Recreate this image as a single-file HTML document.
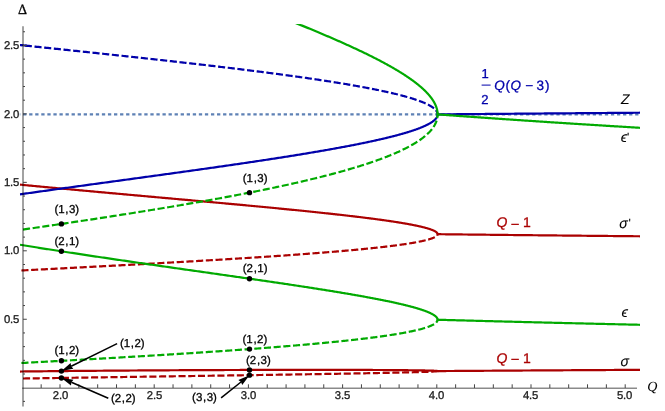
<!DOCTYPE html>
<html><head><meta charset="utf-8"><title>Potts spectrum</title>
<style>
html,body{margin:0;padding:0;background:#fff;}
body{width:665px;height:411px;overflow:hidden;font-family:"Liberation Sans",sans-serif;}
svg{display:block;text-rendering:geometricPrecision;will-change:transform;opacity:0.999;}
</style></head><body>
<svg width="665" height="411" viewBox="0 0 665 411">
<defs><clipPath id="c"><rect x="19.8" y="24" width="620.4" height="387"/></clipPath></defs>
<rect width="665" height="411" fill="#fff"/>
<g clip-path="url(#c)">
<path d="M17.040,114.40 L640.00,114.40" stroke="#5e81b5" stroke-width="2.2" stroke-dasharray="3.3 2.76" fill="none"/>
<path d="M21.10,378.55 L22.67,378.52 L24.25,378.50 L25.82,378.47 L27.40,378.45 L28.97,378.43 L30.55,378.40 L32.13,378.38 L33.71,378.35 L35.28,378.33 L36.86,378.31 L38.44,378.28 L40.02,378.26 L41.60,378.23 L43.18,378.21 L44.76,378.18 L46.34,378.16 L47.92,378.14 L49.50,378.11 L51.09,378.09 L52.67,378.06 L54.25,378.04 L55.83,378.02 L57.41,377.99 L59.00,377.97 L60.58,377.94 L62.16,377.92 L63.74,377.90 L65.32,377.87 L66.91,377.85 L68.49,377.83 L70.07,377.80 L71.65,377.78 L73.23,377.75 L74.82,377.73 L76.40,377.71 L77.98,377.68 L79.56,377.66 L81.14,377.64 L82.72,377.61 L84.30,377.59 L85.88,377.57 L87.46,377.54 L89.03,377.52 L90.61,377.50 L92.19,377.47 L93.77,377.45 L95.34,377.43 L96.92,377.40 L98.49,377.38 L100.07,377.36 L101.64,377.33 L103.21,377.31 L104.78,377.29 L106.36,377.26 L107.93,377.24 L109.50,377.22 L111.06,377.19 L112.63,377.17 L114.20,377.15 L115.77,377.13 L117.33,377.10 L118.89,377.08 L120.46,377.06 L122.02,377.03 L123.58,377.01 L125.14,376.99 L126.70,376.96 L128.26,376.94 L129.81,376.92 L131.37,376.90 L132.92,376.87 L134.48,376.85 L136.03,376.83 L137.58,376.81 L139.13,376.78 L140.67,376.76 L142.22,376.74 L143.76,376.72 L145.31,376.69 L146.85,376.67 L148.39,376.65 L149.93,376.63 L151.46,376.60 L153.00,376.58 L154.53,376.56 L156.07,376.54 L157.60,376.51 L159.13,376.49 L160.65,376.47 L162.18,376.45 L163.70,376.42 L165.22,376.40 L166.74,376.38 L168.26,376.36 L169.78,376.34 L171.29,376.31 L172.80,376.29 L174.31,376.27 L175.82,376.25 L177.33,376.23 L178.83,376.20 L180.33,376.18 L181.83,376.16 L183.33,376.14 L184.83,376.12 L186.32,376.09 L187.81,376.07 L189.30,376.05 L190.79,376.03 L192.27,376.01 L193.76,375.99 L195.24,375.96 L196.71,375.94 L198.19,375.92 L199.66,375.90 L201.13,375.88 L202.60,375.86 L204.06,375.84 L205.53,375.81 L206.99,375.79 L208.44,375.77 L209.90,375.75 L211.35,375.73 L212.80,375.71 L214.25,375.69 L215.69,375.66 L217.14,375.64 L218.57,375.62 L220.01,375.60 L221.44,375.58 L222.87,375.56 L224.30,375.54 L225.73,375.52 L227.15,375.49 L228.57,375.47 L229.98,375.45 L231.40,375.43 L232.81,375.41 L234.21,375.39 L235.62,375.37 L237.02,375.35 L238.42,375.33 L239.81,375.31 L241.20,375.29 L242.59,375.27 L243.97,375.24 L245.36,375.22 L246.74,375.20 L248.11,375.18 L249.48,375.16 L250.85,375.14 L252.22,375.12 L253.58,375.10 L254.94,375.08 L256.29,375.06 L257.64,375.04 L258.99,375.02 L260.34,375.00 L261.68,374.98 L263.01,374.96 L264.35,374.94 L265.68,374.92 L267.01,374.90 L268.33,374.88 L269.65,374.86 L270.96,374.84 L272.28,374.82 L273.59,374.80 L274.89,374.78 L276.19,374.76 L277.49,374.74 L278.78,374.72 L280.07,374.70 L281.36,374.68 L282.64,374.66 L283.92,374.64 L285.19,374.62 L286.46,374.60 L287.73,374.58 L288.99,374.56 L290.24,374.54 L291.50,374.52 L292.75,374.50 L293.99,374.48 L295.24,374.46 L296.47,374.44 L297.71,374.42 L298.94,374.40 L300.16,374.38 L301.38,374.36 L302.60,374.34 L303.81,374.32 L305.02,374.31 L306.22,374.29 L307.42,374.27 L308.61,374.25 L309.81,374.23 L310.99,374.21 L312.17,374.19 L313.35,374.17 L314.52,374.15 L315.69,374.13 L316.85,374.11 L318.01,374.09 L319.17,374.08 L320.32,374.06 L321.46,374.04 L322.61,374.02 L323.74,374.00 L324.87,373.98 L326.00,373.96 L327.12,373.94 L328.24,373.93 L329.35,373.91 L330.46,373.89 L331.57,373.87 L332.66,373.85 L333.76,373.83 L334.85,373.81 L335.93,373.80 L337.01,373.78 L338.08,373.76 L339.15,373.74 L340.22,373.72 L341.28,373.70 L342.33,373.69 L343.38,373.67 L344.43,373.65 L345.47,373.63 L346.50,373.61 L347.53,373.60 L348.56,373.58 L349.58,373.56 L350.59,373.54 L351.60,373.52 L352.61,373.51 L353.60,373.49 L354.60,373.47 L355.59,373.45 L356.57,373.43 L357.55,373.42 L358.52,373.40 L359.49,373.38 L360.45,373.36 L361.41,373.35 L362.36,373.33 L363.31,373.31 L364.25,373.29 L365.19,373.28 L366.12,373.26 L367.04,373.24 L367.96,373.22 L368.88,373.21 L369.78,373.19 L370.69,373.17 L371.59,373.15 L372.48,373.14 L373.37,373.12 L374.25,373.10 L375.12,373.09 L375.99,373.07 L376.86,373.05 L377.72,373.04 L378.57,373.02 L379.42,373.00 L380.26,372.98 L381.10,372.97 L381.93,372.95 L382.76,372.93 L383.58,372.92 L384.39,372.90 L385.20,372.88 L386.00,372.87 L386.80,372.85 L387.59,372.83 L388.37,372.82 L389.15,372.80 L389.93,372.79 L390.70,372.77 L391.46,372.75 L392.21,372.74 L392.96,372.72 L393.71,372.70 L394.45,372.69 L395.18,372.67 L395.91,372.65 L396.63,372.64 L397.34,372.62 L398.05,372.61 L398.76,372.59 L399.45,372.57 L400.14,372.56 L400.83,372.54 L401.51,372.53 L402.18,372.51 L402.85,372.50 L403.51,372.48 L404.17,372.46 L404.81,372.45 L405.46,372.43 L406.09,372.42 L406.73,372.40 L407.35,372.39 L407.97,372.37 L408.58,372.36 L409.19,372.34 L409.79,372.32 L410.38,372.31 L410.97,372.29 L411.55,372.28 L412.13,372.26 L412.70,372.25 L413.26,372.23 L413.82,372.22 L414.37,372.20 L414.91,372.19 L415.45,372.17 L415.98,372.16 L416.51,372.14 L417.02,372.13 L417.54,372.11 L418.04,372.10 L418.54,372.08 L419.04,372.07 L419.53,372.06 L420.01,372.04 L420.48,372.03 L420.95,372.01 L421.41,372.00 L421.87,371.98 L422.32,371.97 L422.76,371.95 L423.20,371.94 L423.63,371.93 L424.05,371.91 L424.47,371.90 L424.88,371.88 L425.29,371.87 L425.69,371.85 L426.08,371.84 L426.46,371.83 L426.84,371.81 L427.21,371.80 L427.58,371.78 L427.94,371.77 L428.29,371.76 L428.64,371.74 L428.98,371.73 L429.31,371.72 L429.64,371.70 L429.96,371.69 L430.27,371.68 L430.58,371.66 L430.88,371.65 L431.18,371.63 L431.46,371.62 L431.75,371.61 L432.02,371.59 L432.29,371.58 L432.55,371.57 L432.81,371.56 L433.05,371.54 L433.30,371.53 L433.53,371.52 L433.76,371.50 L433.98,371.49 L434.20,371.48 L434.41,371.46 L434.61,371.45 L434.81,371.44 L434.99,371.43 L435.18,371.41 L435.35,371.40 L435.52,371.39 L435.69,371.38 L435.84,371.36 L435.99,371.35 L436.13,371.34 L436.27,371.33 L436.40,371.31 L436.52,371.30 L436.64,371.29 L436.75,371.28 L436.85,371.26 L436.95,371.25 L437.04,371.24 L437.12,371.23 L437.20,371.22 L437.27,371.20 L437.33,371.19 L437.39,371.18 L437.44,371.17 L437.48,371.16 L437.52,371.15 L437.55,371.13 L437.57,371.12 L437.59,371.11 L437.60,371.10 L437.60,371.09" stroke="#aa0000" stroke-width="2.2" stroke-dasharray="4.9 4.82" stroke-dashoffset="6.720000000000001" stroke-linecap="square" fill="none"/>
<path d="M20.00,371.53 L21.58,371.51 L23.15,371.49 L24.73,371.47 L26.31,371.45 L27.89,371.44 L29.46,371.42 L31.04,371.40 L32.62,371.38 L34.20,371.37 L35.79,371.35 L37.37,371.33 L38.95,371.32 L40.53,371.30 L42.11,371.28 L43.70,371.27 L45.28,371.25 L46.86,371.23 L48.45,371.22 L50.03,371.20 L51.62,371.18 L53.20,371.17 L54.79,371.15 L56.37,371.14 L57.96,371.12 L59.54,371.11 L61.13,371.09 L62.71,371.07 L64.30,371.06 L65.88,371.04 L67.47,371.03 L69.05,371.01 L70.64,371.00 L72.22,370.99 L73.80,370.97 L75.39,370.96 L76.97,370.94 L78.56,370.93 L80.14,370.91 L81.72,370.90 L83.30,370.89 L84.89,370.87 L86.47,370.86 L88.05,370.85 L89.63,370.83 L91.21,370.82 L92.79,370.81 L94.37,370.79 L95.95,370.78 L97.53,370.77 L99.10,370.75 L100.68,370.74 L102.26,370.73 L103.83,370.72 L105.41,370.70 L106.98,370.69 L108.55,370.68 L110.12,370.67 L111.70,370.65 L113.27,370.64 L114.84,370.63 L116.40,370.62 L117.97,370.61 L119.54,370.60 L121.10,370.58 L122.67,370.57 L124.23,370.56 L125.79,370.55 L127.35,370.54 L128.91,370.53 L130.47,370.52 L132.03,370.51 L133.59,370.50 L135.14,370.49 L136.69,370.48 L138.25,370.47 L139.80,370.46 L141.35,370.45 L142.90,370.44 L144.44,370.43 L145.99,370.42 L147.53,370.41 L149.07,370.40 L150.61,370.39 L152.15,370.38 L153.69,370.37 L155.23,370.36 L156.76,370.35 L158.29,370.34 L159.82,370.33 L161.35,370.32 L162.88,370.31 L164.40,370.30 L165.93,370.30 L167.45,370.29 L168.97,370.28 L170.49,370.27 L172.00,370.26 L173.52,370.25 L175.03,370.25 L176.54,370.24 L178.05,370.23 L179.55,370.22 L181.06,370.21 L182.56,370.21 L184.06,370.20 L185.55,370.19 L187.05,370.18 L188.54,370.18 L190.03,370.17 L191.52,370.16 L193.01,370.16 L194.49,370.15 L195.97,370.14 L197.45,370.14 L198.93,370.13 L200.40,370.12 L201.87,370.12 L203.34,370.11 L204.81,370.10 L206.27,370.10 L207.74,370.09 L209.19,370.08 L210.65,370.08 L212.10,370.07 L213.55,370.07 L215.00,370.06 L216.45,370.06 L217.89,370.05 L219.33,370.04 L220.77,370.04 L222.20,370.03 L223.63,370.03 L225.06,370.02 L226.49,370.02 L227.91,370.01 L229.33,370.01 L230.75,370.00 L232.16,370.00 L233.57,369.99 L234.98,369.99 L236.38,369.98 L237.79,369.98 L239.18,369.98 L240.58,369.97 L241.97,369.97 L243.36,369.96 L244.75,369.96 L246.13,369.96 L247.51,369.95 L248.88,369.95 L250.26,369.94 L251.63,369.94 L252.99,369.94 L254.35,369.93 L255.71,369.93 L257.07,369.93 L258.42,369.92 L259.77,369.92 L261.11,369.92 L262.46,369.92 L263.79,369.91 L265.13,369.91 L266.46,369.91 L267.78,369.90 L269.11,369.90 L270.43,369.90 L271.74,369.90 L273.06,369.89 L274.36,369.89 L275.67,369.89 L276.97,369.89 L278.27,369.89 L279.56,369.88 L280.85,369.88 L282.14,369.88 L283.42,369.88 L284.69,369.88 L285.97,369.88 L287.24,369.87 L288.50,369.87 L289.76,369.87 L291.02,369.87 L292.28,369.87 L293.53,369.87 L294.77,369.87 L296.01,369.87 L297.25,369.86 L298.48,369.86 L299.71,369.86 L300.93,369.86 L302.15,369.86 L303.37,369.86 L304.58,369.86 L305.79,369.86 L306.99,369.86 L308.19,369.86 L309.38,369.86 L310.57,369.86 L311.76,369.86 L312.94,369.86 L314.12,369.86 L315.29,369.86 L316.46,369.86 L317.62,369.86 L318.78,369.86 L319.93,369.86 L321.08,369.86 L322.22,369.86 L323.36,369.86 L324.50,369.86 L325.63,369.86 L326.76,369.86 L327.88,369.87 L328.99,369.87 L330.10,369.87 L331.21,369.87 L332.31,369.87 L333.41,369.87 L334.50,369.87 L335.59,369.87 L336.67,369.88 L337.75,369.88 L338.83,369.88 L339.89,369.88 L340.96,369.88 L342.01,369.88 L343.07,369.89 L344.12,369.89 L345.16,369.89 L346.20,369.89 L347.23,369.89 L348.26,369.90 L349.28,369.90 L350.30,369.90 L351.31,369.90 L352.32,369.91 L353.32,369.91 L354.32,369.91 L355.31,369.91 L356.30,369.92 L357.28,369.92 L358.26,369.92 L359.23,369.92 L360.19,369.93 L361.15,369.93 L362.11,369.93 L363.06,369.94 L364.00,369.94 L364.94,369.94 L365.87,369.95 L366.80,369.95 L367.73,369.95 L368.64,369.96 L369.55,369.96 L370.46,369.96 L371.36,369.97 L372.26,369.97 L373.15,369.98 L374.03,369.98 L374.91,369.98 L375.78,369.99 L376.65,369.99 L377.51,370.00 L378.37,370.00 L379.22,370.01 L380.07,370.01 L380.91,370.01 L381.74,370.02 L382.57,370.02 L383.39,370.03 L384.21,370.03 L385.02,370.04 L385.82,370.04 L386.62,370.05 L387.42,370.05 L388.21,370.06 L388.99,370.06 L389.76,370.07 L390.53,370.07 L391.30,370.08 L392.06,370.08 L392.81,370.09 L393.56,370.09 L394.30,370.10 L395.03,370.10 L395.76,370.11 L396.49,370.12 L397.20,370.12 L397.92,370.13 L398.62,370.13 L399.32,370.14 L400.02,370.14 L400.70,370.15 L401.38,370.16 L402.06,370.16 L402.73,370.17 L403.39,370.17 L404.05,370.18 L404.70,370.19 L405.35,370.19 L405.99,370.20 L406.62,370.21 L407.25,370.21 L407.87,370.22 L408.48,370.23 L409.09,370.23 L409.69,370.24 L410.29,370.25 L410.88,370.25 L411.46,370.26 L412.04,370.27 L412.61,370.27 L413.17,370.28 L413.73,370.29 L414.29,370.30 L414.83,370.30 L415.37,370.31 L415.90,370.32 L416.43,370.33 L416.95,370.33 L417.47,370.34 L417.98,370.35 L418.48,370.36 L418.97,370.36 L419.46,370.37 L419.95,370.38 L420.42,370.39 L420.89,370.39 L421.36,370.40 L421.81,370.41 L422.27,370.42 L422.71,370.43 L423.15,370.44 L423.58,370.44 L424.01,370.45 L424.43,370.46 L424.84,370.47 L425.24,370.48 L425.64,370.49 L426.04,370.49 L426.42,370.50 L426.80,370.51 L427.18,370.52 L427.54,370.53 L427.91,370.54 L428.26,370.55 L428.61,370.56 L428.95,370.56 L429.28,370.57 L429.61,370.58 L429.93,370.59 L430.25,370.60 L430.56,370.61 L430.86,370.62 L431.15,370.63 L431.44,370.64 L431.73,370.65 L432.00,370.66 L432.27,370.67 L432.53,370.68 L432.79,370.69 L433.04,370.70 L433.28,370.71 L433.52,370.71 L433.75,370.72 L433.97,370.73 L434.19,370.74 L434.40,370.75 L434.60,370.76 L434.80,370.77 L434.99,370.78 L435.17,370.79 L435.35,370.81 L435.52,370.82 L435.68,370.83 L435.84,370.84 L435.99,370.85 L436.13,370.86 L436.27,370.87 L436.40,370.88 L436.52,370.89 L436.64,370.90 L436.75,370.91 L436.85,370.92 L436.95,370.93 L437.04,370.94 L437.12,370.95 L437.20,370.96 L437.27,370.98 L437.33,370.99 L437.39,371.00 L437.44,371.01 L437.48,371.02 L437.52,371.03 L437.55,371.04 L437.57,371.05 L437.59,371.06 L437.60,371.08 L437.60,371.09" stroke="#aa0000" stroke-width="2.2" fill="none" stroke-linejoin="round"/>
<path d="M437.60,371.09 L438.62,371.08 L439.63,371.07 L440.65,371.07 L441.67,371.06 L442.69,371.05 L443.70,371.05 L444.72,371.04 L445.74,371.03 L446.75,371.02 L447.77,371.02 L448.79,371.01 L449.81,371.00 L450.82,371.00 L451.84,370.99 L452.86,370.98 L453.87,370.98 L454.89,370.97 L455.91,370.96 L456.92,370.96 L457.94,370.95 L458.96,370.94 L459.98,370.93 L460.99,370.93 L462.01,370.92 L463.03,370.91 L464.04,370.91 L465.06,370.90 L466.08,370.89 L467.10,370.89 L468.11,370.88 L469.13,370.87 L470.15,370.87 L471.16,370.86 L472.18,370.85 L473.20,370.85 L474.22,370.84 L475.23,370.83 L476.25,370.83 L477.27,370.82 L478.28,370.81 L479.30,370.81 L480.32,370.80 L481.33,370.79 L482.35,370.79 L483.37,370.78 L484.39,370.77 L485.40,370.77 L486.42,370.76 L487.44,370.75 L488.45,370.75 L489.47,370.74 L490.49,370.73 L491.51,370.73 L492.52,370.72 L493.54,370.71 L494.56,370.71 L495.57,370.70 L496.59,370.69 L497.61,370.69 L498.63,370.68 L499.64,370.67 L500.66,370.67 L501.68,370.66 L502.69,370.65 L503.71,370.65 L504.73,370.64 L505.74,370.63 L506.76,370.63 L507.78,370.62 L508.80,370.61 L509.81,370.61 L510.83,370.60 L511.85,370.60 L512.86,370.59 L513.88,370.58 L514.90,370.58 L515.92,370.57 L516.93,370.56 L517.95,370.56 L518.97,370.55 L519.98,370.54 L521.00,370.54 L522.02,370.53 L523.04,370.52 L524.05,370.52 L525.07,370.51 L526.09,370.51 L527.10,370.50 L528.12,370.49 L529.14,370.49 L530.15,370.48 L531.17,370.47 L532.19,370.47 L533.21,370.46 L534.22,370.45 L535.24,370.45 L536.26,370.44 L537.27,370.44 L538.29,370.43 L539.31,370.42 L540.33,370.42 L541.34,370.41 L542.36,370.40 L543.38,370.40 L544.39,370.39 L545.41,370.39 L546.43,370.38 L547.45,370.37 L548.46,370.37 L549.48,370.36 L550.50,370.35 L551.51,370.35 L552.53,370.34 L553.55,370.34 L554.56,370.33 L555.58,370.32 L556.60,370.32 L557.62,370.31 L558.63,370.30 L559.65,370.30 L560.67,370.29 L561.68,370.29 L562.70,370.28 L563.72,370.27 L564.74,370.27 L565.75,370.26 L566.77,370.26 L567.79,370.25 L568.80,370.24 L569.82,370.24 L570.84,370.23 L571.86,370.22 L572.87,370.22 L573.89,370.21 L574.91,370.21 L575.92,370.20 L576.94,370.19 L577.96,370.19 L578.97,370.18 L579.99,370.18 L581.01,370.17 L582.03,370.16 L583.04,370.16 L584.06,370.15 L585.08,370.15 L586.09,370.14 L587.11,370.13 L588.13,370.13 L589.15,370.12 L590.16,370.12 L591.18,370.11 L592.20,370.10 L593.21,370.10 L594.23,370.09 L595.25,370.09 L596.27,370.08 L597.28,370.07 L598.30,370.07 L599.32,370.06 L600.33,370.06 L601.35,370.05 L602.37,370.04 L603.38,370.04 L604.40,370.03 L605.42,370.03 L606.44,370.02 L607.45,370.02 L608.47,370.01 L609.49,370.00 L610.50,370.00 L611.52,369.99 L612.54,369.99 L613.56,369.98 L614.57,369.97 L615.59,369.97 L616.61,369.96 L617.62,369.96 L618.64,369.95 L619.66,369.95 L620.68,369.94 L621.69,369.93 L622.71,369.93 L623.73,369.92 L624.74,369.92 L625.76,369.91 L626.78,369.90 L627.79,369.90 L628.81,369.89 L629.83,369.89 L630.85,369.88 L631.86,369.88 L632.88,369.87 L633.90,369.86 L634.91,369.86 L635.93,369.85 L636.95,369.85 L637.97,369.84 L638.98,369.84 L640.00,369.83" stroke="#aa0000" stroke-width="2.2" fill="none" stroke-linejoin="round"/>
<path d="M21.10,270.50 L22.67,270.42 L24.25,270.34 L25.82,270.26 L27.40,270.18 L28.97,270.10 L30.55,270.01 L32.13,269.93 L33.71,269.85 L35.28,269.77 L36.86,269.69 L38.44,269.61 L40.02,269.52 L41.60,269.44 L43.18,269.36 L44.76,269.28 L46.34,269.20 L47.92,269.11 L49.50,269.03 L51.09,268.95 L52.67,268.87 L54.25,268.78 L55.83,268.70 L57.41,268.62 L59.00,268.54 L60.58,268.46 L62.16,268.37 L63.74,268.29 L65.32,268.21 L66.91,268.13 L68.49,268.04 L70.07,267.96 L71.65,267.88 L73.23,267.79 L74.82,267.71 L76.40,267.63 L77.98,267.55 L79.56,267.46 L81.14,267.38 L82.72,267.30 L84.30,267.21 L85.88,267.13 L87.46,267.05 L89.03,266.96 L90.61,266.88 L92.19,266.80 L93.77,266.72 L95.34,266.63 L96.92,266.55 L98.49,266.46 L100.07,266.38 L101.64,266.30 L103.21,266.21 L104.78,266.13 L106.36,266.05 L107.93,265.96 L109.50,265.88 L111.06,265.80 L112.63,265.71 L114.20,265.63 L115.77,265.54 L117.33,265.46 L118.89,265.38 L120.46,265.29 L122.02,265.21 L123.58,265.13 L125.14,265.04 L126.70,264.96 L128.26,264.87 L129.81,264.79 L131.37,264.70 L132.92,264.62 L134.48,264.54 L136.03,264.45 L137.58,264.37 L139.13,264.28 L140.67,264.20 L142.22,264.11 L143.76,264.03 L145.31,263.94 L146.85,263.86 L148.39,263.77 L149.93,263.69 L151.46,263.60 L153.00,263.52 L154.53,263.44 L156.07,263.35 L157.60,263.27 L159.13,263.18 L160.65,263.10 L162.18,263.01 L163.70,262.92 L165.22,262.84 L166.74,262.75 L168.26,262.67 L169.78,262.58 L171.29,262.50 L172.80,262.41 L174.31,262.33 L175.82,262.24 L177.33,262.16 L178.83,262.07 L180.33,261.99 L181.83,261.90 L183.33,261.81 L184.83,261.73 L186.32,261.64 L187.81,261.56 L189.30,261.47 L190.79,261.38 L192.27,261.30 L193.76,261.21 L195.24,261.13 L196.71,261.04 L198.19,260.95 L199.66,260.87 L201.13,260.78 L202.60,260.69 L204.06,260.61 L205.53,260.52 L206.99,260.44 L208.44,260.35 L209.90,260.26 L211.35,260.18 L212.80,260.09 L214.25,260.00 L215.69,259.92 L217.14,259.83 L218.57,259.74 L220.01,259.66 L221.44,259.57 L222.87,259.48 L224.30,259.39 L225.73,259.31 L227.15,259.22 L228.57,259.13 L229.98,259.05 L231.40,258.96 L232.81,258.87 L234.21,258.78 L235.62,258.70 L237.02,258.61 L238.42,258.52 L239.81,258.43 L241.20,258.35 L242.59,258.26 L243.97,258.17 L245.36,258.08 L246.74,258.00 L248.11,257.91 L249.48,257.82 L250.85,257.73 L252.22,257.64 L253.58,257.56 L254.94,257.47 L256.29,257.38 L257.64,257.29 L258.99,257.20 L260.34,257.12 L261.68,257.03 L263.01,256.94 L264.35,256.85 L265.68,256.76 L267.01,256.67 L268.33,256.58 L269.65,256.50 L270.96,256.41 L272.28,256.32 L273.59,256.23 L274.89,256.14 L276.19,256.05 L277.49,255.96 L278.78,255.87 L280.07,255.79 L281.36,255.70 L282.64,255.61 L283.92,255.52 L285.19,255.43 L286.46,255.34 L287.73,255.25 L288.99,255.16 L290.24,255.07 L291.50,254.98 L292.75,254.89 L293.99,254.80 L295.24,254.71 L296.47,254.62 L297.71,254.53 L298.94,254.44 L300.16,254.35 L301.38,254.26 L302.60,254.17 L303.81,254.08 L305.02,253.99 L306.22,253.90 L307.42,253.81 L308.61,253.72 L309.81,253.63 L310.99,253.54 L312.17,253.45 L313.35,253.36 L314.52,253.27 L315.69,253.18 L316.85,253.09 L318.01,253.00 L319.17,252.91 L320.32,252.82 L321.46,252.73 L322.61,252.64 L323.74,252.55 L324.87,252.46 L326.00,252.37 L327.12,252.27 L328.24,252.18 L329.35,252.09 L330.46,252.00 L331.57,251.91 L332.66,251.82 L333.76,251.73 L334.85,251.64 L335.93,251.54 L337.01,251.45 L338.08,251.36 L339.15,251.27 L340.22,251.18 L341.28,251.09 L342.33,250.99 L343.38,250.90 L344.43,250.81 L345.47,250.72 L346.50,250.63 L347.53,250.53 L348.56,250.44 L349.58,250.35 L350.59,250.26 L351.60,250.17 L352.61,250.07 L353.60,249.98 L354.60,249.89 L355.59,249.80 L356.57,249.70 L357.55,249.61 L358.52,249.52 L359.49,249.43 L360.45,249.33 L361.41,249.24 L362.36,249.15 L363.31,249.05 L364.25,248.96 L365.19,248.87 L366.12,248.77 L367.04,248.68 L367.96,248.59 L368.88,248.49 L369.78,248.40 L370.69,248.31 L371.59,248.21 L372.48,248.12 L373.37,248.03 L374.25,247.93 L375.12,247.84 L375.99,247.75 L376.86,247.65 L377.72,247.56 L378.57,247.46 L379.42,247.37 L380.26,247.28 L381.10,247.18 L381.93,247.09 L382.76,246.99 L383.58,246.90 L384.39,246.80 L385.20,246.71 L386.00,246.62 L386.80,246.52 L387.59,246.43 L388.37,246.33 L389.15,246.24 L389.93,246.14 L390.70,246.05 L391.46,245.95 L392.21,245.86 L392.96,245.76 L393.71,245.67 L394.45,245.57 L395.18,245.48 L395.91,245.38 L396.63,245.29 L397.34,245.19 L398.05,245.10 L398.76,245.00 L399.45,244.90 L400.14,244.81 L400.83,244.71 L401.51,244.62 L402.18,244.52 L402.85,244.43 L403.51,244.33 L404.17,244.23 L404.81,244.14 L405.46,244.04 L406.09,243.95 L406.73,243.85 L407.35,243.75 L407.97,243.66 L408.58,243.56 L409.19,243.46 L409.79,243.37 L410.38,243.27 L410.97,243.17 L411.55,243.08 L412.13,242.98 L412.70,242.88 L413.26,242.79 L413.82,242.69 L414.37,242.59 L414.91,242.49 L415.45,242.40 L415.98,242.30 L416.51,242.20 L417.02,242.10 L417.54,242.01 L418.04,241.91 L418.54,241.81 L419.04,241.71 L419.53,241.62 L420.01,241.52 L420.48,241.42 L420.95,241.32 L421.41,241.22 L421.87,241.13 L422.32,241.03 L422.76,240.93 L423.20,240.83 L423.63,240.73 L424.05,240.63 L424.47,240.54 L424.88,240.44 L425.29,240.34 L425.69,240.24 L426.08,240.14 L426.46,240.04 L426.84,239.94 L427.21,239.84 L427.58,239.75 L427.94,239.65 L428.29,239.55 L428.64,239.45 L428.98,239.35 L429.31,239.25 L429.64,239.15 L429.96,239.05 L430.27,238.95 L430.58,238.85 L430.88,238.75 L431.18,238.65 L431.46,238.55 L431.75,238.45 L432.02,238.35 L432.29,238.25 L432.55,238.15 L432.81,238.05 L433.05,237.95 L433.30,237.85 L433.53,237.75 L433.76,237.65 L433.98,237.55 L434.20,237.45 L434.41,237.35 L434.61,237.25 L434.81,237.15 L434.99,237.04 L435.18,236.94 L435.35,236.84 L435.52,236.74 L435.69,236.64 L435.84,236.54 L435.99,236.44 L436.13,236.34 L436.27,236.23 L436.40,236.13 L436.52,236.03 L436.64,235.93 L436.75,235.83 L436.85,235.73 L436.95,235.62 L437.04,235.52 L437.12,235.42 L437.20,235.32 L437.27,235.21 L437.33,235.11 L437.39,235.01 L437.44,234.91 L437.48,234.80 L437.52,234.70 L437.55,234.60 L437.57,234.50 L437.59,234.39 L437.60,234.29 L437.60,234.19" stroke="#aa0000" stroke-width="2.2" stroke-dasharray="4.9 4.82" stroke-dashoffset="8.32" stroke-linecap="square" fill="none"/>
<path d="M20.00,184.62 L21.58,184.77 L23.15,184.92 L24.73,185.08 L26.31,185.23 L27.89,185.38 L29.46,185.53 L31.04,185.68 L32.62,185.84 L34.20,185.99 L35.79,186.14 L37.37,186.29 L38.95,186.44 L40.53,186.59 L42.11,186.74 L43.70,186.89 L45.28,187.04 L46.86,187.19 L48.45,187.34 L50.03,187.49 L51.62,187.64 L53.20,187.79 L54.79,187.94 L56.37,188.08 L57.96,188.23 L59.54,188.38 L61.13,188.53 L62.71,188.68 L64.30,188.82 L65.88,188.97 L67.47,189.12 L69.05,189.27 L70.64,189.41 L72.22,189.56 L73.80,189.71 L75.39,189.85 L76.97,190.00 L78.56,190.14 L80.14,190.29 L81.72,190.44 L83.30,190.58 L84.89,190.73 L86.47,190.87 L88.05,191.02 L89.63,191.16 L91.21,191.31 L92.79,191.45 L94.37,191.60 L95.95,191.74 L97.53,191.88 L99.10,192.03 L100.68,192.17 L102.26,192.31 L103.83,192.46 L105.41,192.60 L106.98,192.74 L108.55,192.89 L110.12,193.03 L111.70,193.17 L113.27,193.31 L114.84,193.46 L116.40,193.60 L117.97,193.74 L119.54,193.88 L121.10,194.02 L122.67,194.16 L124.23,194.30 L125.79,194.45 L127.35,194.59 L128.91,194.73 L130.47,194.87 L132.03,195.01 L133.59,195.15 L135.14,195.29 L136.69,195.43 L138.25,195.57 L139.80,195.71 L141.35,195.85 L142.90,195.99 L144.44,196.12 L145.99,196.26 L147.53,196.40 L149.07,196.54 L150.61,196.68 L152.15,196.82 L153.69,196.95 L155.23,197.09 L156.76,197.23 L158.29,197.37 L159.82,197.51 L161.35,197.64 L162.88,197.78 L164.40,197.92 L165.93,198.05 L167.45,198.19 L168.97,198.33 L170.49,198.46 L172.00,198.60 L173.52,198.74 L175.03,198.87 L176.54,199.01 L178.05,199.14 L179.55,199.28 L181.06,199.41 L182.56,199.55 L184.06,199.68 L185.55,199.82 L187.05,199.95 L188.54,200.09 L190.03,200.22 L191.52,200.36 L193.01,200.49 L194.49,200.62 L195.97,200.76 L197.45,200.89 L198.93,201.02 L200.40,201.16 L201.87,201.29 L203.34,201.42 L204.81,201.56 L206.27,201.69 L207.74,201.82 L209.19,201.96 L210.65,202.09 L212.10,202.22 L213.55,202.35 L215.00,202.48 L216.45,202.62 L217.89,202.75 L219.33,202.88 L220.77,203.01 L222.20,203.14 L223.63,203.27 L225.06,203.40 L226.49,203.53 L227.91,203.67 L229.33,203.80 L230.75,203.93 L232.16,204.06 L233.57,204.19 L234.98,204.32 L236.38,204.45 L237.79,204.58 L239.18,204.71 L240.58,204.84 L241.97,204.96 L243.36,205.09 L244.75,205.22 L246.13,205.35 L247.51,205.48 L248.88,205.61 L250.26,205.74 L251.63,205.87 L252.99,205.99 L254.35,206.12 L255.71,206.25 L257.07,206.38 L258.42,206.51 L259.77,206.63 L261.11,206.76 L262.46,206.89 L263.79,207.02 L265.13,207.14 L266.46,207.27 L267.78,207.40 L269.11,207.52 L270.43,207.65 L271.74,207.78 L273.06,207.90 L274.36,208.03 L275.67,208.15 L276.97,208.28 L278.27,208.41 L279.56,208.53 L280.85,208.66 L282.14,208.78 L283.42,208.91 L284.69,209.03 L285.97,209.16 L287.24,209.28 L288.50,209.41 L289.76,209.53 L291.02,209.66 L292.28,209.78 L293.53,209.91 L294.77,210.03 L296.01,210.15 L297.25,210.28 L298.48,210.40 L299.71,210.53 L300.93,210.65 L302.15,210.77 L303.37,210.90 L304.58,211.02 L305.79,211.14 L306.99,211.26 L308.19,211.39 L309.38,211.51 L310.57,211.63 L311.76,211.76 L312.94,211.88 L314.12,212.00 L315.29,212.12 L316.46,212.24 L317.62,212.37 L318.78,212.49 L319.93,212.61 L321.08,212.73 L322.22,212.85 L323.36,212.97 L324.50,213.10 L325.63,213.22 L326.76,213.34 L327.88,213.46 L328.99,213.58 L330.10,213.70 L331.21,213.82 L332.31,213.94 L333.41,214.06 L334.50,214.18 L335.59,214.30 L336.67,214.42 L337.75,214.54 L338.83,214.66 L339.89,214.78 L340.96,214.90 L342.01,215.02 L343.07,215.14 L344.12,215.26 L345.16,215.38 L346.20,215.50 L347.23,215.61 L348.26,215.73 L349.28,215.85 L350.30,215.97 L351.31,216.09 L352.32,216.21 L353.32,216.32 L354.32,216.44 L355.31,216.56 L356.30,216.68 L357.28,216.80 L358.26,216.91 L359.23,217.03 L360.19,217.15 L361.15,217.27 L362.11,217.38 L363.06,217.50 L364.00,217.62 L364.94,217.73 L365.87,217.85 L366.80,217.97 L367.73,218.08 L368.64,218.20 L369.55,218.32 L370.46,218.43 L371.36,218.55 L372.26,218.67 L373.15,218.78 L374.03,218.90 L374.91,219.01 L375.78,219.13 L376.65,219.24 L377.51,219.36 L378.37,219.47 L379.22,219.59 L380.07,219.70 L380.91,219.82 L381.74,219.93 L382.57,220.05 L383.39,220.16 L384.21,220.28 L385.02,220.39 L385.82,220.51 L386.62,220.62 L387.42,220.74 L388.21,220.85 L388.99,220.96 L389.76,221.08 L390.53,221.19 L391.30,221.31 L392.06,221.42 L392.81,221.53 L393.56,221.65 L394.30,221.76 L395.03,221.87 L395.76,221.99 L396.49,222.10 L397.20,222.21 L397.92,222.32 L398.62,222.44 L399.32,222.55 L400.02,222.66 L400.70,222.78 L401.38,222.89 L402.06,223.00 L402.73,223.11 L403.39,223.22 L404.05,223.34 L404.70,223.45 L405.35,223.56 L405.99,223.67 L406.62,223.78 L407.25,223.89 L407.87,224.01 L408.48,224.12 L409.09,224.23 L409.69,224.34 L410.29,224.45 L410.88,224.56 L411.46,224.67 L412.04,224.78 L412.61,224.89 L413.17,225.00 L413.73,225.11 L414.29,225.22 L414.83,225.34 L415.37,225.45 L415.90,225.56 L416.43,225.67 L416.95,225.78 L417.47,225.89 L417.98,225.99 L418.48,226.10 L418.97,226.21 L419.46,226.32 L419.95,226.43 L420.42,226.54 L420.89,226.65 L421.36,226.76 L421.81,226.87 L422.27,226.98 L422.71,227.09 L423.15,227.20 L423.58,227.30 L424.01,227.41 L424.43,227.52 L424.84,227.63 L425.24,227.74 L425.64,227.85 L426.04,227.95 L426.42,228.06 L426.80,228.17 L427.18,228.28 L427.54,228.39 L427.91,228.49 L428.26,228.60 L428.61,228.71 L428.95,228.82 L429.28,228.92 L429.61,229.03 L429.93,229.14 L430.25,229.25 L430.56,229.35 L430.86,229.46 L431.15,229.57 L431.44,229.67 L431.73,229.78 L432.00,229.89 L432.27,229.99 L432.53,230.10 L432.79,230.21 L433.04,230.31 L433.28,230.42 L433.52,230.52 L433.75,230.63 L433.97,230.74 L434.19,230.84 L434.40,230.95 L434.60,231.05 L434.80,231.16 L434.99,231.27 L435.17,231.37 L435.35,231.48 L435.52,231.58 L435.68,231.69 L435.84,231.79 L435.99,231.90 L436.13,232.00 L436.27,232.11 L436.40,232.21 L436.52,232.32 L436.64,232.42 L436.75,232.53 L436.85,232.63 L436.95,232.73 L437.04,232.84 L437.12,232.94 L437.20,233.05 L437.27,233.15 L437.33,233.25 L437.39,233.36 L437.44,233.46 L437.48,233.57 L437.52,233.67 L437.55,233.77 L437.57,233.88 L437.59,233.98 L437.60,234.08 L437.60,234.19" stroke="#aa0000" stroke-width="2.2" fill="none" stroke-linejoin="round"/>
<path d="M437.60,234.19 L438.62,234.20 L439.63,234.21 L440.65,234.22 L441.67,234.23 L442.69,234.25 L443.70,234.26 L444.72,234.27 L445.74,234.28 L446.75,234.29 L447.77,234.30 L448.79,234.32 L449.81,234.33 L450.82,234.34 L451.84,234.35 L452.86,234.36 L453.87,234.37 L454.89,234.38 L455.91,234.40 L456.92,234.41 L457.94,234.42 L458.96,234.43 L459.98,234.44 L460.99,234.45 L462.01,234.46 L463.03,234.48 L464.04,234.49 L465.06,234.50 L466.08,234.51 L467.10,234.52 L468.11,234.53 L469.13,234.54 L470.15,234.56 L471.16,234.57 L472.18,234.58 L473.20,234.59 L474.22,234.60 L475.23,234.61 L476.25,234.62 L477.27,234.63 L478.28,234.65 L479.30,234.66 L480.32,234.67 L481.33,234.68 L482.35,234.69 L483.37,234.70 L484.39,234.71 L485.40,234.72 L486.42,234.73 L487.44,234.75 L488.45,234.76 L489.47,234.77 L490.49,234.78 L491.51,234.79 L492.52,234.80 L493.54,234.81 L494.56,234.82 L495.57,234.83 L496.59,234.85 L497.61,234.86 L498.63,234.87 L499.64,234.88 L500.66,234.89 L501.68,234.90 L502.69,234.91 L503.71,234.92 L504.73,234.93 L505.74,234.94 L506.76,234.95 L507.78,234.97 L508.80,234.98 L509.81,234.99 L510.83,235.00 L511.85,235.01 L512.86,235.02 L513.88,235.03 L514.90,235.04 L515.92,235.05 L516.93,235.06 L517.95,235.07 L518.97,235.08 L519.98,235.09 L521.00,235.10 L522.02,235.12 L523.04,235.13 L524.05,235.14 L525.07,235.15 L526.09,235.16 L527.10,235.17 L528.12,235.18 L529.14,235.19 L530.15,235.20 L531.17,235.21 L532.19,235.22 L533.21,235.23 L534.22,235.24 L535.24,235.25 L536.26,235.26 L537.27,235.27 L538.29,235.29 L539.31,235.30 L540.33,235.31 L541.34,235.32 L542.36,235.33 L543.38,235.34 L544.39,235.35 L545.41,235.36 L546.43,235.37 L547.45,235.38 L548.46,235.39 L549.48,235.40 L550.50,235.41 L551.51,235.42 L552.53,235.43 L553.55,235.44 L554.56,235.45 L555.58,235.46 L556.60,235.47 L557.62,235.48 L558.63,235.49 L559.65,235.50 L560.67,235.51 L561.68,235.52 L562.70,235.53 L563.72,235.54 L564.74,235.55 L565.75,235.56 L566.77,235.57 L567.79,235.59 L568.80,235.60 L569.82,235.61 L570.84,235.62 L571.86,235.63 L572.87,235.64 L573.89,235.65 L574.91,235.66 L575.92,235.67 L576.94,235.68 L577.96,235.69 L578.97,235.70 L579.99,235.71 L581.01,235.72 L582.03,235.73 L583.04,235.74 L584.06,235.75 L585.08,235.76 L586.09,235.77 L587.11,235.78 L588.13,235.79 L589.15,235.80 L590.16,235.81 L591.18,235.82 L592.20,235.83 L593.21,235.84 L594.23,235.85 L595.25,235.86 L596.27,235.87 L597.28,235.88 L598.30,235.89 L599.32,235.90 L600.33,235.91 L601.35,235.92 L602.37,235.93 L603.38,235.94 L604.40,235.95 L605.42,235.96 L606.44,235.96 L607.45,235.97 L608.47,235.98 L609.49,235.99 L610.50,236.00 L611.52,236.01 L612.54,236.02 L613.56,236.03 L614.57,236.04 L615.59,236.05 L616.61,236.06 L617.62,236.07 L618.64,236.08 L619.66,236.09 L620.68,236.10 L621.69,236.11 L622.71,236.12 L623.73,236.13 L624.74,236.14 L625.76,236.15 L626.78,236.16 L627.79,236.17 L628.81,236.18 L629.83,236.19 L630.85,236.20 L631.86,236.21 L632.88,236.22 L633.90,236.23 L634.91,236.24 L635.93,236.25 L636.95,236.25 L637.97,236.26 L638.98,236.27 L640.00,236.28" stroke="#aa0000" stroke-width="2.2" fill="none" stroke-linejoin="round"/>
<path d="M21.10,45.13 L22.67,45.29 L24.25,45.46 L25.82,45.62 L27.40,45.79 L28.97,45.96 L30.55,46.12 L32.13,46.29 L33.71,46.46 L35.28,46.62 L36.86,46.79 L38.44,46.95 L40.02,47.12 L41.60,47.29 L43.18,47.45 L44.76,47.62 L46.34,47.79 L47.92,47.95 L49.50,48.12 L51.09,48.29 L52.67,48.45 L54.25,48.62 L55.83,48.79 L57.41,48.95 L59.00,49.12 L60.58,49.29 L62.16,49.45 L63.74,49.62 L65.32,49.79 L66.91,49.95 L68.49,50.12 L70.07,50.29 L71.65,50.45 L73.23,50.62 L74.82,50.79 L76.40,50.96 L77.98,51.12 L79.56,51.29 L81.14,51.46 L82.72,51.62 L84.30,51.79 L85.88,51.96 L87.46,52.13 L89.03,52.29 L90.61,52.46 L92.19,52.63 L93.77,52.79 L95.34,52.96 L96.92,53.13 L98.49,53.30 L100.07,53.46 L101.64,53.63 L103.21,53.80 L104.78,53.97 L106.36,54.14 L107.93,54.30 L109.50,54.47 L111.06,54.64 L112.63,54.81 L114.20,54.97 L115.77,55.14 L117.33,55.31 L118.89,55.48 L120.46,55.65 L122.02,55.81 L123.58,55.98 L125.14,56.15 L126.70,56.32 L128.26,56.49 L129.81,56.65 L131.37,56.82 L132.92,56.99 L134.48,57.16 L136.03,57.33 L137.58,57.50 L139.13,57.66 L140.67,57.83 L142.22,58.00 L143.76,58.17 L145.31,58.34 L146.85,58.51 L148.39,58.68 L149.93,58.84 L151.46,59.01 L153.00,59.18 L154.53,59.35 L156.07,59.52 L157.60,59.69 L159.13,59.86 L160.65,60.03 L162.18,60.19 L163.70,60.36 L165.22,60.53 L166.74,60.70 L168.26,60.87 L169.78,61.04 L171.29,61.21 L172.80,61.38 L174.31,61.55 L175.82,61.72 L177.33,61.89 L178.83,62.05 L180.33,62.22 L181.83,62.39 L183.33,62.56 L184.83,62.73 L186.32,62.90 L187.81,63.07 L189.30,63.24 L190.79,63.41 L192.27,63.58 L193.76,63.75 L195.24,63.92 L196.71,64.09 L198.19,64.26 L199.66,64.43 L201.13,64.60 L202.60,64.77 L204.06,64.94 L205.53,65.11 L206.99,65.28 L208.44,65.45 L209.90,65.62 L211.35,65.79 L212.80,65.96 L214.25,66.13 L215.69,66.30 L217.14,66.47 L218.57,66.64 L220.01,66.81 L221.44,66.98 L222.87,67.15 L224.30,67.32 L225.73,67.49 L227.15,67.66 L228.57,67.83 L229.98,68.00 L231.40,68.17 L232.81,68.34 L234.21,68.51 L235.62,68.68 L237.02,68.86 L238.42,69.03 L239.81,69.20 L241.20,69.37 L242.59,69.54 L243.97,69.71 L245.36,69.88 L246.74,70.05 L248.11,70.22 L249.48,70.39 L250.85,70.57 L252.22,70.74 L253.58,70.91 L254.94,71.08 L256.29,71.25 L257.64,71.42 L258.99,71.59 L260.34,71.76 L261.68,71.94 L263.01,72.11 L264.35,72.28 L265.68,72.45 L267.01,72.62 L268.33,72.79 L269.65,72.97 L270.96,73.14 L272.28,73.31 L273.59,73.48 L274.89,73.65 L276.19,73.82 L277.49,74.00 L278.78,74.17 L280.07,74.34 L281.36,74.51 L282.64,74.68 L283.92,74.86 L285.19,75.03 L286.46,75.20 L287.73,75.37 L288.99,75.55 L290.24,75.72 L291.50,75.89 L292.75,76.06 L293.99,76.24 L295.24,76.41 L296.47,76.58 L297.71,76.75 L298.94,76.93 L300.16,77.10 L301.38,77.27 L302.60,77.44 L303.81,77.62 L305.02,77.79 L306.22,77.96 L307.42,78.13 L308.61,78.31 L309.81,78.48 L310.99,78.65 L312.17,78.83 L313.35,79.00 L314.52,79.17 L315.69,79.35 L316.85,79.52 L318.01,79.69 L319.17,79.87 L320.32,80.04 L321.46,80.21 L322.61,80.39 L323.74,80.56 L324.87,80.73 L326.00,80.91 L327.12,81.08 L328.24,81.25 L329.35,81.43 L330.46,81.60 L331.57,81.78 L332.66,81.95 L333.76,82.12 L334.85,82.30 L335.93,82.47 L337.01,82.65 L338.08,82.82 L339.15,82.99 L340.22,83.17 L341.28,83.34 L342.33,83.52 L343.38,83.69 L344.43,83.86 L345.47,84.04 L346.50,84.21 L347.53,84.39 L348.56,84.56 L349.58,84.74 L350.59,84.91 L351.60,85.09 L352.61,85.26 L353.60,85.44 L354.60,85.61 L355.59,85.79 L356.57,85.96 L357.55,86.13 L358.52,86.31 L359.49,86.48 L360.45,86.66 L361.41,86.83 L362.36,87.01 L363.31,87.19 L364.25,87.36 L365.19,87.54 L366.12,87.71 L367.04,87.89 L367.96,88.06 L368.88,88.24 L369.78,88.41 L370.69,88.59 L371.59,88.76 L372.48,88.94 L373.37,89.12 L374.25,89.29 L375.12,89.47 L375.99,89.64 L376.86,89.82 L377.72,89.99 L378.57,90.17 L379.42,90.35 L380.26,90.52 L381.10,90.70 L381.93,90.87 L382.76,91.05 L383.58,91.23 L384.39,91.40 L385.20,91.58 L386.00,91.76 L386.80,91.93 L387.59,92.11 L388.37,92.29 L389.15,92.46 L389.93,92.64 L390.70,92.82 L391.46,92.99 L392.21,93.17 L392.96,93.35 L393.71,93.52 L394.45,93.70 L395.18,93.88 L395.91,94.05 L396.63,94.23 L397.34,94.41 L398.05,94.59 L398.76,94.76 L399.45,94.94 L400.14,95.12 L400.83,95.29 L401.51,95.47 L402.18,95.65 L402.85,95.83 L403.51,96.00 L404.17,96.18 L404.81,96.36 L405.46,96.54 L406.09,96.72 L406.73,96.89 L407.35,97.07 L407.97,97.25 L408.58,97.43 L409.19,97.61 L409.79,97.78 L410.38,97.96 L410.97,98.14 L411.55,98.32 L412.13,98.50 L412.70,98.67 L413.26,98.85 L413.82,99.03 L414.37,99.21 L414.91,99.39 L415.45,99.57 L415.98,99.75 L416.51,99.92 L417.02,100.10 L417.54,100.28 L418.04,100.46 L418.54,100.64 L419.04,100.82 L419.53,101.00 L420.01,101.18 L420.48,101.36 L420.95,101.54 L421.41,101.71 L421.87,101.89 L422.32,102.07 L422.76,102.25 L423.20,102.43 L423.63,102.61 L424.05,102.79 L424.47,102.97 L424.88,103.15 L425.29,103.33 L425.69,103.51 L426.08,103.69 L426.46,103.87 L426.84,104.05 L427.21,104.23 L427.58,104.41 L427.94,104.59 L428.29,104.77 L428.64,104.95 L428.98,105.13 L429.31,105.31 L429.64,105.49 L429.96,105.67 L430.27,105.85 L430.58,106.03 L430.88,106.21 L431.18,106.39 L431.46,106.57 L431.75,106.76 L432.02,106.94 L432.29,107.12 L432.55,107.30 L432.81,107.48 L433.05,107.66 L433.30,107.84 L433.53,108.02 L433.76,108.20 L433.98,108.38 L434.20,108.57 L434.41,108.75 L434.61,108.93 L434.81,109.11 L434.99,109.29 L435.18,109.47 L435.35,109.66 L435.52,109.84 L435.69,110.02 L435.84,110.20 L435.99,110.38 L436.13,110.56 L436.27,110.75 L436.40,110.93 L436.52,111.11 L436.64,111.29 L436.75,111.48 L436.85,111.66 L436.95,111.84 L437.04,112.02 L437.12,112.21 L437.20,112.39 L437.27,112.57 L437.33,112.75 L437.39,112.94 L437.44,113.12 L437.48,113.30 L437.52,113.48 L437.55,113.67 L437.57,113.85 L437.59,114.03 L437.60,114.22 L437.60,114.40" stroke="#0000aa" stroke-width="2.2" stroke-dasharray="4.9 4.82" stroke-dashoffset="4.870000000000001" stroke-linecap="square" fill="none"/>
<path d="M20.00,194.34 L21.58,194.12 L23.15,193.90 L24.73,193.68 L26.31,193.45 L27.89,193.23 L29.46,193.01 L31.04,192.79 L32.62,192.56 L34.20,192.34 L35.79,192.12 L37.37,191.90 L38.95,191.68 L40.53,191.46 L42.11,191.23 L43.70,191.01 L45.28,190.79 L46.86,190.57 L48.45,190.35 L50.03,190.13 L51.62,189.91 L53.20,189.69 L54.79,189.47 L56.37,189.25 L57.96,189.03 L59.54,188.81 L61.13,188.59 L62.71,188.37 L64.30,188.15 L65.88,187.93 L67.47,187.72 L69.05,187.50 L70.64,187.28 L72.22,187.06 L73.80,186.84 L75.39,186.62 L76.97,186.41 L78.56,186.19 L80.14,185.97 L81.72,185.75 L83.30,185.54 L84.89,185.32 L86.47,185.10 L88.05,184.88 L89.63,184.67 L91.21,184.45 L92.79,184.23 L94.37,184.02 L95.95,183.80 L97.53,183.59 L99.10,183.37 L100.68,183.15 L102.26,182.94 L103.83,182.72 L105.41,182.51 L106.98,182.29 L108.55,182.08 L110.12,181.86 L111.70,181.65 L113.27,181.43 L114.84,181.22 L116.40,181.00 L117.97,180.79 L119.54,180.57 L121.10,180.36 L122.67,180.15 L124.23,179.93 L125.79,179.72 L127.35,179.50 L128.91,179.29 L130.47,179.08 L132.03,178.86 L133.59,178.65 L135.14,178.44 L136.69,178.23 L138.25,178.01 L139.80,177.80 L141.35,177.59 L142.90,177.38 L144.44,177.16 L145.99,176.95 L147.53,176.74 L149.07,176.53 L150.61,176.32 L152.15,176.10 L153.69,175.89 L155.23,175.68 L156.76,175.47 L158.29,175.26 L159.82,175.05 L161.35,174.84 L162.88,174.63 L164.40,174.42 L165.93,174.21 L167.45,174.00 L168.97,173.79 L170.49,173.58 L172.00,173.37 L173.52,173.16 L175.03,172.95 L176.54,172.74 L178.05,172.53 L179.55,172.32 L181.06,172.11 L182.56,171.90 L184.06,171.69 L185.55,171.48 L187.05,171.27 L188.54,171.06 L190.03,170.86 L191.52,170.65 L193.01,170.44 L194.49,170.23 L195.97,170.02 L197.45,169.82 L198.93,169.61 L200.40,169.40 L201.87,169.19 L203.34,168.99 L204.81,168.78 L206.27,168.57 L207.74,168.36 L209.19,168.16 L210.65,167.95 L212.10,167.74 L213.55,167.54 L215.00,167.33 L216.45,167.12 L217.89,166.92 L219.33,166.71 L220.77,166.50 L222.20,166.30 L223.63,166.09 L225.06,165.89 L226.49,165.68 L227.91,165.48 L229.33,165.27 L230.75,165.07 L232.16,164.86 L233.57,164.66 L234.98,164.45 L236.38,164.25 L237.79,164.04 L239.18,163.84 L240.58,163.63 L241.97,163.43 L243.36,163.22 L244.75,163.02 L246.13,162.81 L247.51,162.61 L248.88,162.41 L250.26,162.20 L251.63,162.00 L252.99,161.80 L254.35,161.59 L255.71,161.39 L257.07,161.19 L258.42,160.98 L259.77,160.78 L261.11,160.58 L262.46,160.37 L263.79,160.17 L265.13,159.97 L266.46,159.77 L267.78,159.56 L269.11,159.36 L270.43,159.16 L271.74,158.96 L273.06,158.75 L274.36,158.55 L275.67,158.35 L276.97,158.15 L278.27,157.95 L279.56,157.75 L280.85,157.54 L282.14,157.34 L283.42,157.14 L284.69,156.94 L285.97,156.74 L287.24,156.54 L288.50,156.34 L289.76,156.14 L291.02,155.94 L292.28,155.74 L293.53,155.54 L294.77,155.34 L296.01,155.14 L297.25,154.94 L298.48,154.74 L299.71,154.54 L300.93,154.34 L302.15,154.14 L303.37,153.94 L304.58,153.74 L305.79,153.54 L306.99,153.34 L308.19,153.14 L309.38,152.94 L310.57,152.74 L311.76,152.54 L312.94,152.34 L314.12,152.14 L315.29,151.94 L316.46,151.75 L317.62,151.55 L318.78,151.35 L319.93,151.15 L321.08,150.95 L322.22,150.75 L323.36,150.56 L324.50,150.36 L325.63,150.16 L326.76,149.96 L327.88,149.77 L328.99,149.57 L330.10,149.37 L331.21,149.17 L332.31,148.98 L333.41,148.78 L334.50,148.58 L335.59,148.38 L336.67,148.19 L337.75,147.99 L338.83,147.79 L339.89,147.60 L340.96,147.40 L342.01,147.20 L343.07,147.01 L344.12,146.81 L345.16,146.62 L346.20,146.42 L347.23,146.22 L348.26,146.03 L349.28,145.83 L350.30,145.64 L351.31,145.44 L352.32,145.24 L353.32,145.05 L354.32,144.85 L355.31,144.66 L356.30,144.46 L357.28,144.27 L358.26,144.07 L359.23,143.88 L360.19,143.68 L361.15,143.49 L362.11,143.29 L363.06,143.10 L364.00,142.90 L364.94,142.71 L365.87,142.52 L366.80,142.32 L367.73,142.13 L368.64,141.93 L369.55,141.74 L370.46,141.54 L371.36,141.35 L372.26,141.16 L373.15,140.96 L374.03,140.77 L374.91,140.58 L375.78,140.38 L376.65,140.19 L377.51,140.00 L378.37,139.80 L379.22,139.61 L380.07,139.42 L380.91,139.22 L381.74,139.03 L382.57,138.84 L383.39,138.64 L384.21,138.45 L385.02,138.26 L385.82,138.07 L386.62,137.87 L387.42,137.68 L388.21,137.49 L388.99,137.30 L389.76,137.11 L390.53,136.91 L391.30,136.72 L392.06,136.53 L392.81,136.34 L393.56,136.15 L394.30,135.95 L395.03,135.76 L395.76,135.57 L396.49,135.38 L397.20,135.19 L397.92,135.00 L398.62,134.81 L399.32,134.62 L400.02,134.42 L400.70,134.23 L401.38,134.04 L402.06,133.85 L402.73,133.66 L403.39,133.47 L404.05,133.28 L404.70,133.09 L405.35,132.90 L405.99,132.71 L406.62,132.52 L407.25,132.33 L407.87,132.14 L408.48,131.95 L409.09,131.76 L409.69,131.57 L410.29,131.38 L410.88,131.19 L411.46,131.00 L412.04,130.81 L412.61,130.62 L413.17,130.43 L413.73,130.24 L414.29,130.05 L414.83,129.86 L415.37,129.67 L415.90,129.48 L416.43,129.30 L416.95,129.11 L417.47,128.92 L417.98,128.73 L418.48,128.54 L418.97,128.35 L419.46,128.16 L419.95,127.98 L420.42,127.79 L420.89,127.60 L421.36,127.41 L421.81,127.22 L422.27,127.03 L422.71,126.85 L423.15,126.66 L423.58,126.47 L424.01,126.28 L424.43,126.09 L424.84,125.91 L425.24,125.72 L425.64,125.53 L426.04,125.34 L426.42,125.16 L426.80,124.97 L427.18,124.78 L427.54,124.59 L427.91,124.41 L428.26,124.22 L428.61,124.03 L428.95,123.85 L429.28,123.66 L429.61,123.47 L429.93,123.29 L430.25,123.10 L430.56,122.91 L430.86,122.73 L431.15,122.54 L431.44,122.35 L431.73,122.17 L432.00,121.98 L432.27,121.79 L432.53,121.61 L432.79,121.42 L433.04,121.24 L433.28,121.05 L433.52,120.86 L433.75,120.68 L433.97,120.49 L434.19,120.31 L434.40,120.12 L434.60,119.94 L434.80,119.75 L434.99,119.57 L435.17,119.38 L435.35,119.19 L435.52,119.01 L435.68,118.82 L435.84,118.64 L435.99,118.45 L436.13,118.27 L436.27,118.08 L436.40,117.90 L436.52,117.71 L436.64,117.53 L436.75,117.35 L436.85,117.16 L436.95,116.98 L437.04,116.79 L437.12,116.61 L437.20,116.42 L437.27,116.24 L437.33,116.05 L437.39,115.87 L437.44,115.69 L437.48,115.50 L437.52,115.32 L437.55,115.13 L437.57,114.95 L437.59,114.77 L437.60,114.58 L437.60,114.40" stroke="#0000aa" stroke-width="2.2" fill="none" stroke-linejoin="round"/>
<path d="M437.60,114.40 L438.62,114.39 L439.63,114.38 L440.65,114.37 L441.67,114.36 L442.69,114.35 L443.70,114.34 L444.72,114.33 L445.74,114.33 L446.75,114.32 L447.77,114.31 L448.79,114.30 L449.81,114.29 L450.82,114.28 L451.84,114.27 L452.86,114.26 L453.87,114.25 L454.89,114.24 L455.91,114.23 L456.92,114.22 L457.94,114.21 L458.96,114.21 L459.98,114.20 L460.99,114.19 L462.01,114.18 L463.03,114.17 L464.04,114.16 L465.06,114.15 L466.08,114.14 L467.10,114.13 L468.11,114.12 L469.13,114.11 L470.15,114.11 L471.16,114.10 L472.18,114.09 L473.20,114.08 L474.22,114.07 L475.23,114.06 L476.25,114.05 L477.27,114.04 L478.28,114.03 L479.30,114.02 L480.32,114.02 L481.33,114.01 L482.35,114.00 L483.37,113.99 L484.39,113.98 L485.40,113.97 L486.42,113.96 L487.44,113.95 L488.45,113.94 L489.47,113.94 L490.49,113.93 L491.51,113.92 L492.52,113.91 L493.54,113.90 L494.56,113.89 L495.57,113.88 L496.59,113.87 L497.61,113.87 L498.63,113.86 L499.64,113.85 L500.66,113.84 L501.68,113.83 L502.69,113.82 L503.71,113.81 L504.73,113.80 L505.74,113.80 L506.76,113.79 L507.78,113.78 L508.80,113.77 L509.81,113.76 L510.83,113.75 L511.85,113.74 L512.86,113.73 L513.88,113.73 L514.90,113.72 L515.92,113.71 L516.93,113.70 L517.95,113.69 L518.97,113.68 L519.98,113.67 L521.00,113.67 L522.02,113.66 L523.04,113.65 L524.05,113.64 L525.07,113.63 L526.09,113.62 L527.10,113.61 L528.12,113.61 L529.14,113.60 L530.15,113.59 L531.17,113.58 L532.19,113.57 L533.21,113.56 L534.22,113.56 L535.24,113.55 L536.26,113.54 L537.27,113.53 L538.29,113.52 L539.31,113.51 L540.33,113.51 L541.34,113.50 L542.36,113.49 L543.38,113.48 L544.39,113.47 L545.41,113.46 L546.43,113.46 L547.45,113.45 L548.46,113.44 L549.48,113.43 L550.50,113.42 L551.51,113.41 L552.53,113.41 L553.55,113.40 L554.56,113.39 L555.58,113.38 L556.60,113.37 L557.62,113.36 L558.63,113.36 L559.65,113.35 L560.67,113.34 L561.68,113.33 L562.70,113.32 L563.72,113.31 L564.74,113.31 L565.75,113.30 L566.77,113.29 L567.79,113.28 L568.80,113.27 L569.82,113.27 L570.84,113.26 L571.86,113.25 L572.87,113.24 L573.89,113.23 L574.91,113.23 L575.92,113.22 L576.94,113.21 L577.96,113.20 L578.97,113.19 L579.99,113.18 L581.01,113.18 L582.03,113.17 L583.04,113.16 L584.06,113.15 L585.08,113.14 L586.09,113.14 L587.11,113.13 L588.13,113.12 L589.15,113.11 L590.16,113.10 L591.18,113.10 L592.20,113.09 L593.21,113.08 L594.23,113.07 L595.25,113.06 L596.27,113.06 L597.28,113.05 L598.30,113.04 L599.32,113.03 L600.33,113.03 L601.35,113.02 L602.37,113.01 L603.38,113.00 L604.40,112.99 L605.42,112.99 L606.44,112.98 L607.45,112.97 L608.47,112.96 L609.49,112.95 L610.50,112.95 L611.52,112.94 L612.54,112.93 L613.56,112.92 L614.57,112.92 L615.59,112.91 L616.61,112.90 L617.62,112.89 L618.64,112.88 L619.66,112.88 L620.68,112.87 L621.69,112.86 L622.71,112.85 L623.73,112.85 L624.74,112.84 L625.76,112.83 L626.78,112.82 L627.79,112.81 L628.81,112.81 L629.83,112.80 L630.85,112.79 L631.86,112.78 L632.88,112.78 L633.90,112.77 L634.91,112.76 L635.93,112.75 L636.95,112.75 L637.97,112.74 L638.98,112.73 L640.00,112.72" stroke="#0000aa" stroke-width="2.2" fill="none" stroke-linejoin="round"/>
<path d="M21.10,363.03 L22.67,362.95 L24.25,362.86 L25.82,362.78 L27.40,362.69 L28.97,362.61 L30.55,362.52 L32.13,362.43 L33.71,362.35 L35.28,362.26 L36.86,362.17 L38.44,362.09 L40.02,362.00 L41.60,361.91 L43.18,361.83 L44.76,361.74 L46.34,361.65 L47.92,361.57 L49.50,361.48 L51.09,361.39 L52.67,361.30 L54.25,361.22 L55.83,361.13 L57.41,361.04 L59.00,360.95 L60.58,360.87 L62.16,360.78 L63.74,360.69 L65.32,360.60 L66.91,360.51 L68.49,360.42 L70.07,360.34 L71.65,360.25 L73.23,360.16 L74.82,360.07 L76.40,359.98 L77.98,359.89 L79.56,359.80 L81.14,359.71 L82.72,359.63 L84.30,359.54 L85.88,359.45 L87.46,359.36 L89.03,359.27 L90.61,359.18 L92.19,359.09 L93.77,359.00 L95.34,358.91 L96.92,358.82 L98.49,358.73 L100.07,358.64 L101.64,358.55 L103.21,358.46 L104.78,358.37 L106.36,358.28 L107.93,358.18 L109.50,358.09 L111.06,358.00 L112.63,357.91 L114.20,357.82 L115.77,357.73 L117.33,357.64 L118.89,357.55 L120.46,357.46 L122.02,357.36 L123.58,357.27 L125.14,357.18 L126.70,357.09 L128.26,357.00 L129.81,356.90 L131.37,356.81 L132.92,356.72 L134.48,356.63 L136.03,356.53 L137.58,356.44 L139.13,356.35 L140.67,356.26 L142.22,356.16 L143.76,356.07 L145.31,355.98 L146.85,355.88 L148.39,355.79 L149.93,355.70 L151.46,355.60 L153.00,355.51 L154.53,355.42 L156.07,355.32 L157.60,355.23 L159.13,355.13 L160.65,355.04 L162.18,354.94 L163.70,354.85 L165.22,354.76 L166.74,354.66 L168.26,354.57 L169.78,354.47 L171.29,354.38 L172.80,354.28 L174.31,354.19 L175.82,354.09 L177.33,354.00 L178.83,353.90 L180.33,353.80 L181.83,353.71 L183.33,353.61 L184.83,353.52 L186.32,353.42 L187.81,353.32 L189.30,353.23 L190.79,353.13 L192.27,353.04 L193.76,352.94 L195.24,352.84 L196.71,352.75 L198.19,352.65 L199.66,352.55 L201.13,352.45 L202.60,352.36 L204.06,352.26 L205.53,352.16 L206.99,352.07 L208.44,351.97 L209.90,351.87 L211.35,351.77 L212.80,351.67 L214.25,351.58 L215.69,351.48 L217.14,351.38 L218.57,351.28 L220.01,351.18 L221.44,351.08 L222.87,350.99 L224.30,350.89 L225.73,350.79 L227.15,350.69 L228.57,350.59 L229.98,350.49 L231.40,350.39 L232.81,350.29 L234.21,350.19 L235.62,350.09 L237.02,349.99 L238.42,349.89 L239.81,349.79 L241.20,349.69 L242.59,349.59 L243.97,349.49 L245.36,349.39 L246.74,349.29 L248.11,349.19 L249.48,349.09 L250.85,348.99 L252.22,348.88 L253.58,348.78 L254.94,348.68 L256.29,348.58 L257.64,348.48 L258.99,348.38 L260.34,348.28 L261.68,348.17 L263.01,348.07 L264.35,347.97 L265.68,347.87 L267.01,347.76 L268.33,347.66 L269.65,347.56 L270.96,347.46 L272.28,347.35 L273.59,347.25 L274.89,347.15 L276.19,347.04 L277.49,346.94 L278.78,346.84 L280.07,346.73 L281.36,346.63 L282.64,346.53 L283.92,346.42 L285.19,346.32 L286.46,346.21 L287.73,346.11 L288.99,346.00 L290.24,345.90 L291.50,345.79 L292.75,345.69 L293.99,345.59 L295.24,345.48 L296.47,345.37 L297.71,345.27 L298.94,345.16 L300.16,345.06 L301.38,344.95 L302.60,344.85 L303.81,344.74 L305.02,344.63 L306.22,344.53 L307.42,344.42 L308.61,344.32 L309.81,344.21 L310.99,344.10 L312.17,344.00 L313.35,343.89 L314.52,343.78 L315.69,343.67 L316.85,343.57 L318.01,343.46 L319.17,343.35 L320.32,343.24 L321.46,343.14 L322.61,343.03 L323.74,342.92 L324.87,342.81 L326.00,342.70 L327.12,342.59 L328.24,342.49 L329.35,342.38 L330.46,342.27 L331.57,342.16 L332.66,342.05 L333.76,341.94 L334.85,341.83 L335.93,341.72 L337.01,341.61 L338.08,341.50 L339.15,341.39 L340.22,341.28 L341.28,341.17 L342.33,341.06 L343.38,340.95 L344.43,340.84 L345.47,340.73 L346.50,340.62 L347.53,340.51 L348.56,340.40 L349.58,340.29 L350.59,340.17 L351.60,340.06 L352.61,339.95 L353.60,339.84 L354.60,339.73 L355.59,339.62 L356.57,339.50 L357.55,339.39 L358.52,339.28 L359.49,339.17 L360.45,339.05 L361.41,338.94 L362.36,338.83 L363.31,338.71 L364.25,338.60 L365.19,338.49 L366.12,338.37 L367.04,338.26 L367.96,338.15 L368.88,338.03 L369.78,337.92 L370.69,337.80 L371.59,337.69 L372.48,337.57 L373.37,337.46 L374.25,337.35 L375.12,337.23 L375.99,337.11 L376.86,337.00 L377.72,336.88 L378.57,336.77 L379.42,336.65 L380.26,336.54 L381.10,336.42 L381.93,336.31 L382.76,336.19 L383.58,336.07 L384.39,335.96 L385.20,335.84 L386.00,335.72 L386.80,335.61 L387.59,335.49 L388.37,335.37 L389.15,335.25 L389.93,335.14 L390.70,335.02 L391.46,334.90 L392.21,334.78 L392.96,334.66 L393.71,334.55 L394.45,334.43 L395.18,334.31 L395.91,334.19 L396.63,334.07 L397.34,333.95 L398.05,333.83 L398.76,333.71 L399.45,333.59 L400.14,333.47 L400.83,333.36 L401.51,333.24 L402.18,333.12 L402.85,332.99 L403.51,332.87 L404.17,332.75 L404.81,332.63 L405.46,332.51 L406.09,332.39 L406.73,332.27 L407.35,332.15 L407.97,332.03 L408.58,331.91 L409.19,331.78 L409.79,331.66 L410.38,331.54 L410.97,331.42 L411.55,331.30 L412.13,331.17 L412.70,331.05 L413.26,330.93 L413.82,330.80 L414.37,330.68 L414.91,330.56 L415.45,330.43 L415.98,330.31 L416.51,330.19 L417.02,330.06 L417.54,329.94 L418.04,329.82 L418.54,329.69 L419.04,329.57 L419.53,329.44 L420.01,329.32 L420.48,329.19 L420.95,329.07 L421.41,328.94 L421.87,328.82 L422.32,328.69 L422.76,328.56 L423.20,328.44 L423.63,328.31 L424.05,328.19 L424.47,328.06 L424.88,327.93 L425.29,327.81 L425.69,327.68 L426.08,327.55 L426.46,327.42 L426.84,327.30 L427.21,327.17 L427.58,327.04 L427.94,326.91 L428.29,326.79 L428.64,326.66 L428.98,326.53 L429.31,326.40 L429.64,326.27 L429.96,326.14 L430.27,326.01 L430.58,325.88 L430.88,325.75 L431.18,325.63 L431.46,325.50 L431.75,325.37 L432.02,325.24 L432.29,325.10 L432.55,324.97 L432.81,324.84 L433.05,324.71 L433.30,324.58 L433.53,324.45 L433.76,324.32 L433.98,324.19 L434.20,324.06 L434.41,323.92 L434.61,323.79 L434.81,323.66 L434.99,323.53 L435.18,323.40 L435.35,323.26 L435.52,323.13 L435.69,323.00 L435.84,322.86 L435.99,322.73 L436.13,322.60 L436.27,322.46 L436.40,322.33 L436.52,322.19 L436.64,322.06 L436.75,321.93 L436.85,321.79 L436.95,321.66 L437.04,321.52 L437.12,321.39 L437.20,321.25 L437.27,321.12 L437.33,320.98 L437.39,320.84 L437.44,320.71 L437.48,320.57 L437.52,320.43 L437.55,320.30 L437.57,320.16 L437.59,320.02 L437.60,319.89 L437.60,319.75" stroke="#00aa00" stroke-width="2.2" stroke-dasharray="4.9 4.82" stroke-dashoffset="8.32" stroke-linecap="square" fill="none"/>
<path d="M20.00,244.74 L21.58,245.00 L23.15,245.25 L24.73,245.51 L26.31,245.76 L27.89,246.02 L29.46,246.27 L31.04,246.52 L32.62,246.78 L34.20,247.03 L35.79,247.28 L37.37,247.53 L38.95,247.79 L40.53,248.04 L42.11,248.29 L43.70,248.54 L45.28,248.79 L46.86,249.04 L48.45,249.28 L50.03,249.53 L51.62,249.78 L53.20,250.03 L54.79,250.27 L56.37,250.52 L57.96,250.77 L59.54,251.01 L61.13,251.26 L62.71,251.50 L64.30,251.75 L65.88,251.99 L67.47,252.23 L69.05,252.48 L70.64,252.72 L72.22,252.96 L73.80,253.20 L75.39,253.44 L76.97,253.68 L78.56,253.93 L80.14,254.16 L81.72,254.40 L83.30,254.64 L84.89,254.88 L86.47,255.12 L88.05,255.36 L89.63,255.60 L91.21,255.83 L92.79,256.07 L94.37,256.31 L95.95,256.54 L97.53,256.78 L99.10,257.01 L100.68,257.25 L102.26,257.48 L103.83,257.71 L105.41,257.95 L106.98,258.18 L108.55,258.41 L110.12,258.64 L111.70,258.88 L113.27,259.11 L114.84,259.34 L116.40,259.57 L117.97,259.80 L119.54,260.03 L121.10,260.26 L122.67,260.49 L124.23,260.71 L125.79,260.94 L127.35,261.17 L128.91,261.40 L130.47,261.62 L132.03,261.85 L133.59,262.08 L135.14,262.30 L136.69,262.53 L138.25,262.75 L139.80,262.98 L141.35,263.20 L142.90,263.43 L144.44,263.65 L145.99,263.87 L147.53,264.09 L149.07,264.32 L150.61,264.54 L152.15,264.76 L153.69,264.98 L155.23,265.20 L156.76,265.42 L158.29,265.64 L159.82,265.86 L161.35,266.08 L162.88,266.30 L164.40,266.52 L165.93,266.74 L167.45,266.95 L168.97,267.17 L170.49,267.39 L172.00,267.61 L173.52,267.82 L175.03,268.04 L176.54,268.25 L178.05,268.47 L179.55,268.68 L181.06,268.90 L182.56,269.11 L184.06,269.33 L185.55,269.54 L187.05,269.75 L188.54,269.97 L190.03,270.18 L191.52,270.39 L193.01,270.60 L194.49,270.81 L195.97,271.02 L197.45,271.23 L198.93,271.44 L200.40,271.65 L201.87,271.86 L203.34,272.07 L204.81,272.28 L206.27,272.49 L207.74,272.70 L209.19,272.91 L210.65,273.11 L212.10,273.32 L213.55,273.53 L215.00,273.73 L216.45,273.94 L217.89,274.15 L219.33,274.35 L220.77,274.56 L222.20,274.76 L223.63,274.97 L225.06,275.17 L226.49,275.37 L227.91,275.58 L229.33,275.78 L230.75,275.98 L232.16,276.19 L233.57,276.39 L234.98,276.59 L236.38,276.79 L237.79,276.99 L239.18,277.19 L240.58,277.39 L241.97,277.59 L243.36,277.79 L244.75,277.99 L246.13,278.19 L247.51,278.39 L248.88,278.59 L250.26,278.79 L251.63,278.99 L252.99,279.18 L254.35,279.38 L255.71,279.58 L257.07,279.78 L258.42,279.97 L259.77,280.17 L261.11,280.36 L262.46,280.56 L263.79,280.75 L265.13,280.95 L266.46,281.14 L267.78,281.34 L269.11,281.53 L270.43,281.73 L271.74,281.92 L273.06,282.11 L274.36,282.30 L275.67,282.50 L276.97,282.69 L278.27,282.88 L279.56,283.07 L280.85,283.26 L282.14,283.45 L283.42,283.64 L284.69,283.83 L285.97,284.02 L287.24,284.21 L288.50,284.40 L289.76,284.59 L291.02,284.78 L292.28,284.97 L293.53,285.16 L294.77,285.35 L296.01,285.53 L297.25,285.72 L298.48,285.91 L299.71,286.09 L300.93,286.28 L302.15,286.47 L303.37,286.65 L304.58,286.84 L305.79,287.02 L306.99,287.21 L308.19,287.39 L309.38,287.58 L310.57,287.76 L311.76,287.95 L312.94,288.13 L314.12,288.31 L315.29,288.49 L316.46,288.68 L317.62,288.86 L318.78,289.04 L319.93,289.22 L321.08,289.41 L322.22,289.59 L323.36,289.77 L324.50,289.95 L325.63,290.13 L326.76,290.31 L327.88,290.49 L328.99,290.67 L330.10,290.85 L331.21,291.03 L332.31,291.21 L333.41,291.38 L334.50,291.56 L335.59,291.74 L336.67,291.92 L337.75,292.10 L338.83,292.27 L339.89,292.45 L340.96,292.63 L342.01,292.80 L343.07,292.98 L344.12,293.15 L345.16,293.33 L346.20,293.50 L347.23,293.68 L348.26,293.85 L349.28,294.03 L350.30,294.20 L351.31,294.38 L352.32,294.55 L353.32,294.72 L354.32,294.90 L355.31,295.07 L356.30,295.24 L357.28,295.42 L358.26,295.59 L359.23,295.76 L360.19,295.93 L361.15,296.10 L362.11,296.27 L363.06,296.44 L364.00,296.62 L364.94,296.79 L365.87,296.96 L366.80,297.13 L367.73,297.30 L368.64,297.46 L369.55,297.63 L370.46,297.80 L371.36,297.97 L372.26,298.14 L373.15,298.31 L374.03,298.48 L374.91,298.64 L375.78,298.81 L376.65,298.98 L377.51,299.14 L378.37,299.31 L379.22,299.48 L380.07,299.64 L380.91,299.81 L381.74,299.97 L382.57,300.14 L383.39,300.30 L384.21,300.47 L385.02,300.63 L385.82,300.80 L386.62,300.96 L387.42,301.13 L388.21,301.29 L388.99,301.45 L389.76,301.62 L390.53,301.78 L391.30,301.94 L392.06,302.11 L392.81,302.27 L393.56,302.43 L394.30,302.59 L395.03,302.75 L395.76,302.91 L396.49,303.08 L397.20,303.24 L397.92,303.40 L398.62,303.56 L399.32,303.72 L400.02,303.88 L400.70,304.04 L401.38,304.20 L402.06,304.36 L402.73,304.51 L403.39,304.67 L404.05,304.83 L404.70,304.99 L405.35,305.15 L405.99,305.31 L406.62,305.46 L407.25,305.62 L407.87,305.78 L408.48,305.94 L409.09,306.09 L409.69,306.25 L410.29,306.41 L410.88,306.56 L411.46,306.72 L412.04,306.87 L412.61,307.03 L413.17,307.18 L413.73,307.34 L414.29,307.49 L414.83,307.65 L415.37,307.80 L415.90,307.96 L416.43,308.11 L416.95,308.26 L417.47,308.42 L417.98,308.57 L418.48,308.72 L418.97,308.88 L419.46,309.03 L419.95,309.18 L420.42,309.33 L420.89,309.48 L421.36,309.64 L421.81,309.79 L422.27,309.94 L422.71,310.09 L423.15,310.24 L423.58,310.39 L424.01,310.54 L424.43,310.69 L424.84,310.84 L425.24,310.99 L425.64,311.14 L426.04,311.29 L426.42,311.44 L426.80,311.59 L427.18,311.74 L427.54,311.89 L427.91,312.03 L428.26,312.18 L428.61,312.33 L428.95,312.48 L429.28,312.63 L429.61,312.77 L429.93,312.92 L430.25,313.07 L430.56,313.21 L430.86,313.36 L431.15,313.51 L431.44,313.65 L431.73,313.80 L432.00,313.94 L432.27,314.09 L432.53,314.24 L432.79,314.38 L433.04,314.53 L433.28,314.67 L433.52,314.81 L433.75,314.96 L433.97,315.10 L434.19,315.25 L434.40,315.39 L434.60,315.53 L434.80,315.68 L434.99,315.82 L435.17,315.96 L435.35,316.11 L435.52,316.25 L435.68,316.39 L435.84,316.53 L435.99,316.68 L436.13,316.82 L436.27,316.96 L436.40,317.10 L436.52,317.24 L436.64,317.38 L436.75,317.52 L436.85,317.66 L436.95,317.80 L437.04,317.94 L437.12,318.08 L437.20,318.22 L437.27,318.36 L437.33,318.50 L437.39,318.64 L437.44,318.78 L437.48,318.92 L437.52,319.06 L437.55,319.20 L437.57,319.34 L437.59,319.47 L437.60,319.61 L437.60,319.75" stroke="#00aa00" stroke-width="2.2" fill="none" stroke-linejoin="round"/>
<path d="M437.60,319.75 L438.62,319.78 L439.63,319.81 L440.65,319.83 L441.67,319.86 L442.69,319.89 L443.70,319.92 L444.72,319.95 L445.74,319.97 L446.75,320.00 L447.77,320.03 L448.79,320.06 L449.81,320.09 L450.82,320.11 L451.84,320.14 L452.86,320.17 L453.87,320.20 L454.89,320.22 L455.91,320.25 L456.92,320.28 L457.94,320.31 L458.96,320.33 L459.98,320.36 L460.99,320.39 L462.01,320.42 L463.03,320.44 L464.04,320.47 L465.06,320.50 L466.08,320.52 L467.10,320.55 L468.11,320.58 L469.13,320.61 L470.15,320.63 L471.16,320.66 L472.18,320.69 L473.20,320.71 L474.22,320.74 L475.23,320.77 L476.25,320.80 L477.27,320.82 L478.28,320.85 L479.30,320.88 L480.32,320.90 L481.33,320.93 L482.35,320.96 L483.37,320.98 L484.39,321.01 L485.40,321.04 L486.42,321.06 L487.44,321.09 L488.45,321.12 L489.47,321.14 L490.49,321.17 L491.51,321.20 L492.52,321.22 L493.54,321.25 L494.56,321.28 L495.57,321.30 L496.59,321.33 L497.61,321.35 L498.63,321.38 L499.64,321.41 L500.66,321.43 L501.68,321.46 L502.69,321.49 L503.71,321.51 L504.73,321.54 L505.74,321.56 L506.76,321.59 L507.78,321.62 L508.80,321.64 L509.81,321.67 L510.83,321.69 L511.85,321.72 L512.86,321.75 L513.88,321.77 L514.90,321.80 L515.92,321.82 L516.93,321.85 L517.95,321.87 L518.97,321.90 L519.98,321.93 L521.00,321.95 L522.02,321.98 L523.04,322.00 L524.05,322.03 L525.07,322.05 L526.09,322.08 L527.10,322.11 L528.12,322.13 L529.14,322.16 L530.15,322.18 L531.17,322.21 L532.19,322.23 L533.21,322.26 L534.22,322.28 L535.24,322.31 L536.26,322.33 L537.27,322.36 L538.29,322.38 L539.31,322.41 L540.33,322.43 L541.34,322.46 L542.36,322.48 L543.38,322.51 L544.39,322.53 L545.41,322.56 L546.43,322.58 L547.45,322.61 L548.46,322.63 L549.48,322.66 L550.50,322.68 L551.51,322.71 L552.53,322.73 L553.55,322.76 L554.56,322.78 L555.58,322.81 L556.60,322.83 L557.62,322.86 L558.63,322.88 L559.65,322.91 L560.67,322.93 L561.68,322.96 L562.70,322.98 L563.72,323.01 L564.74,323.03 L565.75,323.06 L566.77,323.08 L567.79,323.10 L568.80,323.13 L569.82,323.15 L570.84,323.18 L571.86,323.20 L572.87,323.23 L573.89,323.25 L574.91,323.27 L575.92,323.30 L576.94,323.32 L577.96,323.35 L578.97,323.37 L579.99,323.40 L581.01,323.42 L582.03,323.44 L583.04,323.47 L584.06,323.49 L585.08,323.52 L586.09,323.54 L587.11,323.56 L588.13,323.59 L589.15,323.61 L590.16,323.64 L591.18,323.66 L592.20,323.68 L593.21,323.71 L594.23,323.73 L595.25,323.76 L596.27,323.78 L597.28,323.80 L598.30,323.83 L599.32,323.85 L600.33,323.87 L601.35,323.90 L602.37,323.92 L603.38,323.95 L604.40,323.97 L605.42,323.99 L606.44,324.02 L607.45,324.04 L608.47,324.06 L609.49,324.09 L610.50,324.11 L611.52,324.13 L612.54,324.16 L613.56,324.18 L614.57,324.20 L615.59,324.23 L616.61,324.25 L617.62,324.27 L618.64,324.30 L619.66,324.32 L620.68,324.34 L621.69,324.37 L622.71,324.39 L623.73,324.41 L624.74,324.44 L625.76,324.46 L626.78,324.48 L627.79,324.51 L628.81,324.53 L629.83,324.55 L630.85,324.57 L631.86,324.60 L632.88,324.62 L633.90,324.64 L634.91,324.67 L635.93,324.69 L636.95,324.71 L637.97,324.73 L638.98,324.76 L640.00,324.78" stroke="#00aa00" stroke-width="2.2" fill="none" stroke-linejoin="round"/>
<path d="M21.10,229.83 L22.67,229.60 L24.25,229.37 L25.82,229.14 L27.40,228.91 L28.97,228.68 L30.55,228.45 L32.13,228.22 L33.71,227.99 L35.28,227.76 L36.86,227.53 L38.44,227.30 L40.02,227.07 L41.60,226.84 L43.18,226.61 L44.76,226.37 L46.34,226.14 L47.92,225.91 L49.50,225.68 L51.09,225.44 L52.67,225.21 L54.25,224.98 L55.83,224.74 L57.41,224.51 L59.00,224.28 L60.58,224.04 L62.16,223.81 L63.74,223.57 L65.32,223.34 L66.91,223.10 L68.49,222.87 L70.07,222.63 L71.65,222.39 L73.23,222.16 L74.82,221.92 L76.40,221.68 L77.98,221.45 L79.56,221.21 L81.14,220.97 L82.72,220.73 L84.30,220.50 L85.88,220.26 L87.46,220.02 L89.03,219.78 L90.61,219.54 L92.19,219.30 L93.77,219.06 L95.34,218.82 L96.92,218.58 L98.49,218.34 L100.07,218.10 L101.64,217.86 L103.21,217.62 L104.78,217.38 L106.36,217.14 L107.93,216.89 L109.50,216.65 L111.06,216.41 L112.63,216.17 L114.20,215.92 L115.77,215.68 L117.33,215.44 L118.89,215.19 L120.46,214.95 L122.02,214.70 L123.58,214.46 L125.14,214.21 L126.70,213.97 L128.26,213.72 L129.81,213.48 L131.37,213.23 L132.92,212.98 L134.48,212.74 L136.03,212.49 L137.58,212.24 L139.13,212.00 L140.67,211.75 L142.22,211.50 L143.76,211.25 L145.31,211.00 L146.85,210.76 L148.39,210.51 L149.93,210.26 L151.46,210.01 L153.00,209.76 L154.53,209.51 L156.07,209.26 L157.60,209.01 L159.13,208.76 L160.65,208.50 L162.18,208.25 L163.70,208.00 L165.22,207.75 L166.74,207.50 L168.26,207.24 L169.78,206.99 L171.29,206.74 L172.80,206.48 L174.31,206.23 L175.82,205.98 L177.33,205.72 L178.83,205.47 L180.33,205.21 L181.83,204.96 L183.33,204.70 L184.83,204.45 L186.32,204.19 L187.81,203.93 L189.30,203.68 L190.79,203.42 L192.27,203.16 L193.76,202.90 L195.24,202.65 L196.71,202.39 L198.19,202.13 L199.66,201.87 L201.13,201.61 L202.60,201.35 L204.06,201.09 L205.53,200.83 L206.99,200.57 L208.44,200.31 L209.90,200.05 L211.35,199.79 L212.80,199.53 L214.25,199.27 L215.69,199.01 L217.14,198.75 L218.57,198.48 L220.01,198.22 L221.44,197.96 L222.87,197.69 L224.30,197.43 L225.73,197.17 L227.15,196.90 L228.57,196.64 L229.98,196.37 L231.40,196.11 L232.81,195.84 L234.21,195.58 L235.62,195.31 L237.02,195.04 L238.42,194.78 L239.81,194.51 L241.20,194.24 L242.59,193.97 L243.97,193.71 L245.36,193.44 L246.74,193.17 L248.11,192.90 L249.48,192.63 L250.85,192.36 L252.22,192.09 L253.58,191.82 L254.94,191.55 L256.29,191.28 L257.64,191.01 L258.99,190.74 L260.34,190.47 L261.68,190.20 L263.01,189.92 L264.35,189.65 L265.68,189.38 L267.01,189.10 L268.33,188.83 L269.65,188.56 L270.96,188.28 L272.28,188.01 L273.59,187.73 L274.89,187.46 L276.19,187.18 L277.49,186.91 L278.78,186.63 L280.07,186.36 L281.36,186.08 L282.64,185.80 L283.92,185.52 L285.19,185.25 L286.46,184.97 L287.73,184.69 L288.99,184.41 L290.24,184.13 L291.50,183.85 L292.75,183.57 L293.99,183.29 L295.24,183.01 L296.47,182.73 L297.71,182.45 L298.94,182.17 L300.16,181.89 L301.38,181.61 L302.60,181.32 L303.81,181.04 L305.02,180.76 L306.22,180.48 L307.42,180.19 L308.61,179.91 L309.81,179.62 L310.99,179.34 L312.17,179.05 L313.35,178.77 L314.52,178.48 L315.69,178.20 L316.85,177.91 L318.01,177.62 L319.17,177.34 L320.32,177.05 L321.46,176.76 L322.61,176.48 L323.74,176.19 L324.87,175.90 L326.00,175.61 L327.12,175.32 L328.24,175.03 L329.35,174.74 L330.46,174.45 L331.57,174.16 L332.66,173.87 L333.76,173.58 L334.85,173.28 L335.93,172.99 L337.01,172.70 L338.08,172.41 L339.15,172.11 L340.22,171.82 L341.28,171.53 L342.33,171.23 L343.38,170.94 L344.43,170.64 L345.47,170.35 L346.50,170.05 L347.53,169.76 L348.56,169.46 L349.58,169.16 L350.59,168.87 L351.60,168.57 L352.61,168.27 L353.60,167.97 L354.60,167.67 L355.59,167.37 L356.57,167.08 L357.55,166.78 L358.52,166.48 L359.49,166.18 L360.45,165.87 L361.41,165.57 L362.36,165.27 L363.31,164.97 L364.25,164.67 L365.19,164.37 L366.12,164.06 L367.04,163.76 L367.96,163.46 L368.88,163.15 L369.78,162.85 L370.69,162.54 L371.59,162.24 L372.48,161.93 L373.37,161.63 L374.25,161.32 L375.12,161.01 L375.99,160.71 L376.86,160.40 L377.72,160.09 L378.57,159.78 L379.42,159.47 L380.26,159.17 L381.10,158.86 L381.93,158.55 L382.76,158.24 L383.58,157.93 L384.39,157.62 L385.20,157.30 L386.00,156.99 L386.80,156.68 L387.59,156.37 L388.37,156.06 L389.15,155.74 L389.93,155.43 L390.70,155.12 L391.46,154.80 L392.21,154.49 L392.96,154.17 L393.71,153.86 L394.45,153.54 L395.18,153.22 L395.91,152.91 L396.63,152.59 L397.34,152.27 L398.05,151.96 L398.76,151.64 L399.45,151.32 L400.14,151.00 L400.83,150.68 L401.51,150.36 L402.18,150.04 L402.85,149.72 L403.51,149.40 L404.17,149.08 L404.81,148.76 L405.46,148.43 L406.09,148.11 L406.73,147.79 L407.35,147.46 L407.97,147.14 L408.58,146.82 L409.19,146.49 L409.79,146.17 L410.38,145.84 L410.97,145.52 L411.55,145.19 L412.13,144.86 L412.70,144.54 L413.26,144.21 L413.82,143.88 L414.37,143.55 L414.91,143.22 L415.45,142.89 L415.98,142.56 L416.51,142.23 L417.02,141.90 L417.54,141.57 L418.04,141.24 L418.54,140.91 L419.04,140.58 L419.53,140.24 L420.01,139.91 L420.48,139.58 L420.95,139.24 L421.41,138.91 L421.87,138.58 L422.32,138.24 L422.76,137.90 L423.20,137.57 L423.63,137.23 L424.05,136.90 L424.47,136.56 L424.88,136.22 L425.29,135.88 L425.69,135.54 L426.08,135.20 L426.46,134.87 L426.84,134.53 L427.21,134.19 L427.58,133.84 L427.94,133.50 L428.29,133.16 L428.64,132.82 L428.98,132.48 L429.31,132.13 L429.64,131.79 L429.96,131.45 L430.27,131.10 L430.58,130.76 L430.88,130.41 L431.18,130.07 L431.46,129.72 L431.75,129.37 L432.02,129.03 L432.29,128.68 L432.55,128.33 L432.81,127.98 L433.05,127.63 L433.30,127.29 L433.53,126.94 L433.76,126.59 L433.98,126.23 L434.20,125.88 L434.41,125.53 L434.61,125.18 L434.81,124.83 L434.99,124.47 L435.18,124.12 L435.35,123.77 L435.52,123.41 L435.69,123.06 L435.84,122.70 L435.99,122.35 L436.13,121.99 L436.27,121.63 L436.40,121.28 L436.52,120.92 L436.64,120.56 L436.75,120.20 L436.85,119.84 L436.95,119.48 L437.04,119.12 L437.12,118.76 L437.20,118.40 L437.27,118.04 L437.33,117.68 L437.39,117.32 L437.44,116.95 L437.48,116.59 L437.52,116.23 L437.55,115.86 L437.57,115.50 L437.59,115.13 L437.60,114.77 L437.60,114.40" stroke="#00aa00" stroke-width="2.2" stroke-dasharray="4.9 4.82" stroke-dashoffset="6.670000000000001" stroke-linecap="square" fill="none"/>
<path d="M20.00,-85.63 L21.58,-84.94 L23.15,-84.26 L24.73,-83.58 L26.31,-82.90 L27.89,-82.22 L29.46,-81.54 L31.04,-80.87 L32.62,-80.19 L34.20,-79.52 L35.79,-78.85 L37.37,-78.17 L38.95,-77.50 L40.53,-76.83 L42.11,-76.17 L43.70,-75.50 L45.28,-74.83 L46.86,-74.17 L48.45,-73.51 L50.03,-72.85 L51.62,-72.19 L53.20,-71.53 L54.79,-70.87 L56.37,-70.21 L57.96,-69.55 L59.54,-68.90 L61.13,-68.25 L62.71,-67.59 L64.30,-66.94 L65.88,-66.29 L67.47,-65.64 L69.05,-65.00 L70.64,-64.35 L72.22,-63.70 L73.80,-63.06 L75.39,-62.42 L76.97,-61.77 L78.56,-61.13 L80.14,-60.49 L81.72,-59.85 L83.30,-59.22 L84.89,-58.58 L86.47,-57.95 L88.05,-57.31 L89.63,-56.68 L91.21,-56.05 L92.79,-55.42 L94.37,-54.79 L95.95,-54.16 L97.53,-53.53 L99.10,-52.90 L100.68,-52.28 L102.26,-51.65 L103.83,-51.03 L105.41,-50.41 L106.98,-49.79 L108.55,-49.17 L110.12,-48.55 L111.70,-47.93 L113.27,-47.32 L114.84,-46.70 L116.40,-46.09 L117.97,-45.47 L119.54,-44.86 L121.10,-44.25 L122.67,-43.64 L124.23,-43.03 L125.79,-42.42 L127.35,-41.81 L128.91,-41.21 L130.47,-40.60 L132.03,-40.00 L133.59,-39.40 L135.14,-38.79 L136.69,-38.19 L138.25,-37.59 L139.80,-36.99 L141.35,-36.40 L142.90,-35.80 L144.44,-35.20 L145.99,-34.61 L147.53,-34.02 L149.07,-33.42 L150.61,-32.83 L152.15,-32.24 L153.69,-31.65 L155.23,-31.06 L156.76,-30.47 L158.29,-29.89 L159.82,-29.30 L161.35,-28.72 L162.88,-28.13 L164.40,-27.55 L165.93,-26.97 L167.45,-26.39 L168.97,-25.81 L170.49,-25.23 L172.00,-24.65 L173.52,-24.07 L175.03,-23.50 L176.54,-22.92 L178.05,-22.35 L179.55,-21.78 L181.06,-21.20 L182.56,-20.63 L184.06,-20.06 L185.55,-19.49 L187.05,-18.93 L188.54,-18.36 L190.03,-17.79 L191.52,-17.23 L193.01,-16.66 L194.49,-16.10 L195.97,-15.54 L197.45,-14.97 L198.93,-14.41 L200.40,-13.85 L201.87,-13.30 L203.34,-12.74 L204.81,-12.18 L206.27,-11.62 L207.74,-11.07 L209.19,-10.51 L210.65,-9.96 L212.10,-9.41 L213.55,-8.86 L215.00,-8.31 L216.45,-7.76 L217.89,-7.21 L219.33,-6.66 L220.77,-6.11 L222.20,-5.57 L223.63,-5.02 L225.06,-4.48 L226.49,-3.93 L227.91,-3.39 L229.33,-2.85 L230.75,-2.31 L232.16,-1.77 L233.57,-1.23 L234.98,-0.69 L236.38,-0.15 L237.79,0.38 L239.18,0.92 L240.58,1.45 L241.97,1.99 L243.36,2.52 L244.75,3.05 L246.13,3.58 L247.51,4.11 L248.88,4.64 L250.26,5.17 L251.63,5.70 L252.99,6.23 L254.35,6.75 L255.71,7.28 L257.07,7.80 L258.42,8.33 L259.77,8.85 L261.11,9.37 L262.46,9.89 L263.79,10.41 L265.13,10.93 L266.46,11.45 L267.78,11.97 L269.11,12.49 L270.43,13.00 L271.74,13.52 L273.06,14.03 L274.36,14.54 L275.67,15.06 L276.97,15.57 L278.27,16.08 L279.56,16.59 L280.85,17.10 L282.14,17.61 L283.42,18.12 L284.69,18.63 L285.97,19.13 L287.24,19.64 L288.50,20.14 L289.76,20.65 L291.02,21.15 L292.28,21.65 L293.53,22.15 L294.77,22.66 L296.01,23.16 L297.25,23.65 L298.48,24.15 L299.71,24.65 L300.93,25.15 L302.15,25.64 L303.37,26.14 L304.58,26.63 L305.79,27.13 L306.99,27.62 L308.19,28.11 L309.38,28.61 L310.57,29.10 L311.76,29.59 L312.94,30.08 L314.12,30.56 L315.29,31.05 L316.46,31.54 L317.62,32.03 L318.78,32.51 L319.93,33.00 L321.08,33.48 L322.22,33.96 L323.36,34.45 L324.50,34.93 L325.63,35.41 L326.76,35.89 L327.88,36.37 L328.99,36.85 L330.10,37.33 L331.21,37.80 L332.31,38.28 L333.41,38.76 L334.50,39.23 L335.59,39.71 L336.67,40.18 L337.75,40.65 L338.83,41.13 L339.89,41.60 L340.96,42.07 L342.01,42.54 L343.07,43.01 L344.12,43.48 L345.16,43.95 L346.20,44.41 L347.23,44.88 L348.26,45.35 L349.28,45.81 L350.30,46.28 L351.31,46.74 L352.32,47.20 L353.32,47.67 L354.32,48.13 L355.31,48.59 L356.30,49.05 L357.28,49.51 L358.26,49.97 L359.23,50.43 L360.19,50.88 L361.15,51.34 L362.11,51.80 L363.06,52.25 L364.00,52.71 L364.94,53.16 L365.87,53.61 L366.80,54.07 L367.73,54.52 L368.64,54.97 L369.55,55.42 L370.46,55.87 L371.36,56.32 L372.26,56.77 L373.15,57.22 L374.03,57.67 L374.91,58.11 L375.78,58.56 L376.65,59.01 L377.51,59.45 L378.37,59.89 L379.22,60.34 L380.07,60.78 L380.91,61.22 L381.74,61.67 L382.57,62.11 L383.39,62.55 L384.21,62.99 L385.02,63.43 L385.82,63.86 L386.62,64.30 L387.42,64.74 L388.21,65.18 L388.99,65.61 L389.76,66.05 L390.53,66.48 L391.30,66.91 L392.06,67.35 L392.81,67.78 L393.56,68.21 L394.30,68.64 L395.03,69.08 L395.76,69.51 L396.49,69.93 L397.20,70.36 L397.92,70.79 L398.62,71.22 L399.32,71.65 L400.02,72.07 L400.70,72.50 L401.38,72.92 L402.06,73.35 L402.73,73.77 L403.39,74.20 L404.05,74.62 L404.70,75.04 L405.35,75.46 L405.99,75.88 L406.62,76.30 L407.25,76.72 L407.87,77.14 L408.48,77.56 L409.09,77.98 L409.69,78.40 L410.29,78.81 L410.88,79.23 L411.46,79.65 L412.04,80.06 L412.61,80.47 L413.17,80.89 L413.73,81.30 L414.29,81.71 L414.83,82.13 L415.37,82.54 L415.90,82.95 L416.43,83.36 L416.95,83.77 L417.47,84.18 L417.98,84.59 L418.48,84.99 L418.97,85.40 L419.46,85.81 L419.95,86.22 L420.42,86.62 L420.89,87.03 L421.36,87.43 L421.81,87.83 L422.27,88.24 L422.71,88.64 L423.15,89.04 L423.58,89.44 L424.01,89.85 L424.43,90.25 L424.84,90.65 L425.24,91.05 L425.64,91.44 L426.04,91.84 L426.42,92.24 L426.80,92.64 L427.18,93.03 L427.54,93.43 L427.91,93.83 L428.26,94.22 L428.61,94.62 L428.95,95.01 L429.28,95.40 L429.61,95.80 L429.93,96.19 L430.25,96.58 L430.56,96.97 L430.86,97.36 L431.15,97.75 L431.44,98.14 L431.73,98.53 L432.00,98.92 L432.27,99.31 L432.53,99.69 L432.79,100.08 L433.04,100.47 L433.28,100.85 L433.52,101.24 L433.75,101.62 L433.97,102.01 L434.19,102.39 L434.40,102.78 L434.60,103.16 L434.80,103.54 L434.99,103.92 L435.17,104.30 L435.35,104.68 L435.52,105.06 L435.68,105.44 L435.84,105.82 L435.99,106.20 L436.13,106.58 L436.27,106.96 L436.40,107.33 L436.52,107.71 L436.64,108.09 L436.75,108.46 L436.85,108.84 L436.95,109.21 L437.04,109.58 L437.12,109.96 L437.20,110.33 L437.27,110.70 L437.33,111.08 L437.39,111.45 L437.44,111.82 L437.48,112.19 L437.52,112.56 L437.55,112.93 L437.57,113.30 L437.59,113.66 L437.60,114.03 L437.60,114.40" stroke="#00aa00" stroke-width="2.2" fill="none" stroke-linejoin="round"/>
<path d="M437.60,114.40 L438.62,114.47 L439.63,114.55 L440.65,114.62 L441.67,114.70 L442.69,114.77 L443.70,114.85 L444.72,114.92 L445.74,115.00 L446.75,115.07 L447.77,115.15 L448.79,115.22 L449.81,115.29 L450.82,115.37 L451.84,115.44 L452.86,115.52 L453.87,115.59 L454.89,115.66 L455.91,115.74 L456.92,115.81 L457.94,115.88 L458.96,115.96 L459.98,116.03 L460.99,116.10 L462.01,116.18 L463.03,116.25 L464.04,116.32 L465.06,116.39 L466.08,116.47 L467.10,116.54 L468.11,116.61 L469.13,116.68 L470.15,116.76 L471.16,116.83 L472.18,116.90 L473.20,116.97 L474.22,117.04 L475.23,117.12 L476.25,117.19 L477.27,117.26 L478.28,117.33 L479.30,117.40 L480.32,117.47 L481.33,117.55 L482.35,117.62 L483.37,117.69 L484.39,117.76 L485.40,117.83 L486.42,117.90 L487.44,117.97 L488.45,118.04 L489.47,118.11 L490.49,118.19 L491.51,118.26 L492.52,118.33 L493.54,118.40 L494.56,118.47 L495.57,118.54 L496.59,118.61 L497.61,118.68 L498.63,118.75 L499.64,118.82 L500.66,118.89 L501.68,118.96 L502.69,119.03 L503.71,119.10 L504.73,119.17 L505.74,119.24 L506.76,119.31 L507.78,119.38 L508.80,119.45 L509.81,119.51 L510.83,119.58 L511.85,119.65 L512.86,119.72 L513.88,119.79 L514.90,119.86 L515.92,119.93 L516.93,120.00 L517.95,120.07 L518.97,120.13 L519.98,120.20 L521.00,120.27 L522.02,120.34 L523.04,120.41 L524.05,120.48 L525.07,120.54 L526.09,120.61 L527.10,120.68 L528.12,120.75 L529.14,120.82 L530.15,120.88 L531.17,120.95 L532.19,121.02 L533.21,121.09 L534.22,121.16 L535.24,121.22 L536.26,121.29 L537.27,121.36 L538.29,121.42 L539.31,121.49 L540.33,121.56 L541.34,121.63 L542.36,121.69 L543.38,121.76 L544.39,121.83 L545.41,121.89 L546.43,121.96 L547.45,122.03 L548.46,122.09 L549.48,122.16 L550.50,122.23 L551.51,122.29 L552.53,122.36 L553.55,122.42 L554.56,122.49 L555.58,122.56 L556.60,122.62 L557.62,122.69 L558.63,122.75 L559.65,122.82 L560.67,122.89 L561.68,122.95 L562.70,123.02 L563.72,123.08 L564.74,123.15 L565.75,123.21 L566.77,123.28 L567.79,123.34 L568.80,123.41 L569.82,123.47 L570.84,123.54 L571.86,123.60 L572.87,123.67 L573.89,123.73 L574.91,123.80 L575.92,123.86 L576.94,123.93 L577.96,123.99 L578.97,124.06 L579.99,124.12 L581.01,124.19 L582.03,124.25 L583.04,124.31 L584.06,124.38 L585.08,124.44 L586.09,124.51 L587.11,124.57 L588.13,124.64 L589.15,124.70 L590.16,124.76 L591.18,124.83 L592.20,124.89 L593.21,124.95 L594.23,125.02 L595.25,125.08 L596.27,125.14 L597.28,125.21 L598.30,125.27 L599.32,125.33 L600.33,125.40 L601.35,125.46 L602.37,125.52 L603.38,125.59 L604.40,125.65 L605.42,125.71 L606.44,125.78 L607.45,125.84 L608.47,125.90 L609.49,125.96 L610.50,126.03 L611.52,126.09 L612.54,126.15 L613.56,126.21 L614.57,126.28 L615.59,126.34 L616.61,126.40 L617.62,126.46 L618.64,126.52 L619.66,126.59 L620.68,126.65 L621.69,126.71 L622.71,126.77 L623.73,126.83 L624.74,126.90 L625.76,126.96 L626.78,127.02 L627.79,127.08 L628.81,127.14 L629.83,127.20 L630.85,127.26 L631.86,127.33 L632.88,127.39 L633.90,127.45 L634.91,127.51 L635.93,127.57 L636.95,127.63 L637.97,127.69 L638.98,127.75 L640.00,127.81" stroke="#00aa00" stroke-width="2.2" fill="none" stroke-linejoin="round"/>
<path d="M21.10,45.13 L26.00,45.64" stroke="#0000aa" stroke-width="2.2" stroke-linecap="square" fill="none"/>
</g>
<g>
<path d="M22.2,388.15 L637,388.15" stroke="#000" stroke-opacity="0.46" stroke-width="1.5" fill="none"/>
<path d="M23.0,26.2 L23.0,406.5" stroke="#000" stroke-opacity="0.46" stroke-width="1.6" fill="none"/>
<path d="M41.16,388.0 L41.16,384.3" stroke="#444" stroke-width="1" fill="none"/>
<path d="M60.00,388.0 L60.00,384.3" stroke="#444" stroke-width="1" fill="none"/>
<path d="M78.84,388.0 L78.84,384.3" stroke="#444" stroke-width="1" fill="none"/>
<path d="M97.68,388.0 L97.68,384.3" stroke="#444" stroke-width="1" fill="none"/>
<path d="M116.52,388.0 L116.52,384.3" stroke="#444" stroke-width="1" fill="none"/>
<path d="M135.36,388.0 L135.36,384.3" stroke="#444" stroke-width="1" fill="none"/>
<path d="M154.20,388.0 L154.20,384.3" stroke="#444" stroke-width="1" fill="none"/>
<path d="M173.04,388.0 L173.04,384.3" stroke="#444" stroke-width="1" fill="none"/>
<path d="M191.88,388.0 L191.88,384.3" stroke="#444" stroke-width="1" fill="none"/>
<path d="M210.72,388.0 L210.72,384.3" stroke="#444" stroke-width="1" fill="none"/>
<path d="M229.56,388.0 L229.56,384.3" stroke="#444" stroke-width="1" fill="none"/>
<path d="M248.40,388.0 L248.40,384.3" stroke="#444" stroke-width="1" fill="none"/>
<path d="M267.24,388.0 L267.24,384.3" stroke="#444" stroke-width="1" fill="none"/>
<path d="M286.08,388.0 L286.08,384.3" stroke="#444" stroke-width="1" fill="none"/>
<path d="M304.92,388.0 L304.92,384.3" stroke="#444" stroke-width="1" fill="none"/>
<path d="M323.76,388.0 L323.76,384.3" stroke="#444" stroke-width="1" fill="none"/>
<path d="M342.60,388.0 L342.60,384.3" stroke="#444" stroke-width="1" fill="none"/>
<path d="M361.44,388.0 L361.44,384.3" stroke="#444" stroke-width="1" fill="none"/>
<path d="M380.28,388.0 L380.28,384.3" stroke="#444" stroke-width="1" fill="none"/>
<path d="M399.12,388.0 L399.12,384.3" stroke="#444" stroke-width="1" fill="none"/>
<path d="M417.96,388.0 L417.96,384.3" stroke="#444" stroke-width="1" fill="none"/>
<path d="M436.80,388.0 L436.80,384.3" stroke="#444" stroke-width="1" fill="none"/>
<path d="M455.64,388.0 L455.64,384.3" stroke="#444" stroke-width="1" fill="none"/>
<path d="M474.48,388.0 L474.48,384.3" stroke="#444" stroke-width="1" fill="none"/>
<path d="M493.32,388.0 L493.32,384.3" stroke="#444" stroke-width="1" fill="none"/>
<path d="M512.16,388.0 L512.16,384.3" stroke="#444" stroke-width="1" fill="none"/>
<path d="M531.00,388.0 L531.00,384.3" stroke="#444" stroke-width="1" fill="none"/>
<path d="M549.84,388.0 L549.84,384.3" stroke="#444" stroke-width="1" fill="none"/>
<path d="M568.68,388.0 L568.68,384.3" stroke="#444" stroke-width="1" fill="none"/>
<path d="M587.52,388.0 L587.52,384.3" stroke="#444" stroke-width="1" fill="none"/>
<path d="M606.36,388.0 L606.36,384.3" stroke="#444" stroke-width="1" fill="none"/>
<path d="M625.20,388.0 L625.20,384.3" stroke="#444" stroke-width="1" fill="none"/>
<path d="M23.0,401.39 L25.0,401.39" stroke="#444" stroke-width="1" fill="none"/>
<path d="M23.0,374.01 L25.0,374.01" stroke="#444" stroke-width="1" fill="none"/>
<path d="M23.0,360.32 L25.0,360.32" stroke="#444" stroke-width="1" fill="none"/>
<path d="M23.0,346.63 L25.0,346.63" stroke="#444" stroke-width="1" fill="none"/>
<path d="M23.0,332.94 L25.0,332.94" stroke="#444" stroke-width="1" fill="none"/>
<path d="M23.0,319.25 L26.8,319.25" stroke="#444" stroke-width="1" fill="none"/>
<path d="M23.0,305.56 L25.0,305.56" stroke="#444" stroke-width="1" fill="none"/>
<path d="M23.0,291.87 L25.0,291.87" stroke="#444" stroke-width="1" fill="none"/>
<path d="M23.0,278.18 L25.0,278.18" stroke="#444" stroke-width="1" fill="none"/>
<path d="M23.0,264.49 L25.0,264.49" stroke="#444" stroke-width="1" fill="none"/>
<path d="M23.0,250.80 L26.8,250.80" stroke="#444" stroke-width="1" fill="none"/>
<path d="M23.0,237.11 L25.0,237.11" stroke="#444" stroke-width="1" fill="none"/>
<path d="M23.0,223.42 L25.0,223.42" stroke="#444" stroke-width="1" fill="none"/>
<path d="M23.0,209.73 L25.0,209.73" stroke="#444" stroke-width="1" fill="none"/>
<path d="M23.0,196.04 L25.0,196.04" stroke="#444" stroke-width="1" fill="none"/>
<path d="M23.0,182.35 L26.8,182.35" stroke="#444" stroke-width="1" fill="none"/>
<path d="M23.0,168.66 L25.0,168.66" stroke="#444" stroke-width="1" fill="none"/>
<path d="M23.0,154.97 L25.0,154.97" stroke="#444" stroke-width="1" fill="none"/>
<path d="M23.0,141.28 L25.0,141.28" stroke="#444" stroke-width="1" fill="none"/>
<path d="M23.0,127.59 L25.0,127.59" stroke="#444" stroke-width="1" fill="none"/>
<path d="M23.0,113.90 L26.8,113.90" stroke="#444" stroke-width="1" fill="none"/>
<path d="M23.0,100.21 L25.0,100.21" stroke="#444" stroke-width="1" fill="none"/>
<path d="M23.0,86.52 L25.0,86.52" stroke="#444" stroke-width="1" fill="none"/>
<path d="M23.0,72.83 L25.0,72.83" stroke="#444" stroke-width="1" fill="none"/>
<path d="M23.0,59.14 L25.0,59.14" stroke="#444" stroke-width="1" fill="none"/>
<path d="M23.0,45.45 L26.8,45.45" stroke="#444" stroke-width="1" fill="none"/>
<path d="M23.0,31.76 L25.0,31.76" stroke="#444" stroke-width="1" fill="none"/>
</g>
<g>
<path d="M117.10,343.70 L71.18,366.28" stroke="#000" stroke-width="1.5" fill="none"/><path d="M61.40,371.09 L70.62,363.10 L71.18,366.28 L73.36,368.66 Z" fill="#000"/>
<path d="M108.30,398.30 L71.40,382.27" stroke="#000" stroke-width="1.5" fill="none"/><path d="M61.40,377.93 L73.46,379.79 L71.40,382.27 L70.99,385.48 Z" fill="#000"/>
<path d="M221.10,397.90 L240.99,381.97" stroke="#000" stroke-width="1.5" fill="none"/><path d="M249.50,375.16 L242.23,384.96 L240.99,381.97 L238.35,380.12 Z" fill="#000"/>
</g>
<g>
<circle cx="61.40" cy="223.92" r="2.7" fill="#000"/>
<circle cx="61.40" cy="251.30" r="2.7" fill="#000"/>
<circle cx="61.40" cy="360.82" r="2.7" fill="#000"/>
<circle cx="61.40" cy="371.09" r="2.7" fill="#000"/>
<circle cx="61.40" cy="377.93" r="2.7" fill="#000"/>
<circle cx="249.50" cy="192.63" r="2.7" fill="#000"/>
<circle cx="249.50" cy="278.68" r="2.7" fill="#000"/>
<circle cx="249.50" cy="349.09" r="2.7" fill="#000"/>
<circle cx="249.50" cy="369.95" r="2.7" fill="#000"/>
<circle cx="249.50" cy="375.16" r="2.7" fill="#000"/>
</g>
<g opacity="0.999">
<text x="19.30" y="49.05" font-family="Liberation Sans, sans-serif" font-size="11.3px" fill="#1a1a1a" stroke="#1a1a1a" stroke-width="0.3"  text-anchor="end" letter-spacing="-0.1">2.5</text>
<text x="19.30" y="117.50" font-family="Liberation Sans, sans-serif" font-size="11.3px" fill="#1a1a1a" stroke="#1a1a1a" stroke-width="0.3"  text-anchor="end" letter-spacing="-0.1">2.0</text>
<text x="19.30" y="185.95" font-family="Liberation Sans, sans-serif" font-size="11.3px" fill="#1a1a1a" stroke="#1a1a1a" stroke-width="0.3"  text-anchor="end" letter-spacing="-0.1">1.5</text>
<text x="19.30" y="254.40" font-family="Liberation Sans, sans-serif" font-size="11.3px" fill="#1a1a1a" stroke="#1a1a1a" stroke-width="0.3"  text-anchor="end" letter-spacing="-0.1">1.0</text>
<text x="19.30" y="322.85" font-family="Liberation Sans, sans-serif" font-size="11.3px" fill="#1a1a1a" stroke="#1a1a1a" stroke-width="0.3"  text-anchor="end" letter-spacing="-0.1">0.5</text>
<text x="60.48" y="399.20" font-family="Liberation Sans, sans-serif" font-size="11.3px" fill="#1a1a1a" stroke="#1a1a1a" stroke-width="0.3"  text-anchor="middle" letter-spacing="-0.1">2.0</text>
<text x="154.50" y="399.20" font-family="Liberation Sans, sans-serif" font-size="11.3px" fill="#1a1a1a" stroke="#1a1a1a" stroke-width="0.3"  text-anchor="middle" letter-spacing="-0.1">2.5</text>
<text x="248.52" y="399.20" font-family="Liberation Sans, sans-serif" font-size="11.3px" fill="#1a1a1a" stroke="#1a1a1a" stroke-width="0.3"  text-anchor="middle" letter-spacing="-0.1">3.0</text>
<text x="342.54" y="399.20" font-family="Liberation Sans, sans-serif" font-size="11.3px" fill="#1a1a1a" stroke="#1a1a1a" stroke-width="0.3"  text-anchor="middle" letter-spacing="-0.1">3.5</text>
<text x="436.56" y="399.20" font-family="Liberation Sans, sans-serif" font-size="11.3px" fill="#1a1a1a" stroke="#1a1a1a" stroke-width="0.3"  text-anchor="middle" letter-spacing="-0.1">4.0</text>
<text x="530.58" y="399.20" font-family="Liberation Sans, sans-serif" font-size="11.3px" fill="#1a1a1a" stroke="#1a1a1a" stroke-width="0.3"  text-anchor="middle" letter-spacing="-0.1">4.5</text>
<text x="624.60" y="399.20" font-family="Liberation Sans, sans-serif" font-size="11.3px" fill="#1a1a1a" stroke="#1a1a1a" stroke-width="0.3"  text-anchor="middle" letter-spacing="-0.1">5.0</text>
<text x="18.00" y="14.00" font-family="Liberation Serif, sans-serif" font-size="14px" fill="#000" stroke="#000" stroke-width="0.3"  text-anchor="start" >&#916;</text>
<text x="647.30" y="391.10" font-family="Liberation Serif, sans-serif" font-size="14px" fill="#000" stroke="#000" stroke-width="0.05" font-style="italic" text-anchor="start" >Q</text>
<text x="54.40" y="213.30" font-family="Liberation Sans, sans-serif" font-size="11.5px" fill="#000" stroke="#000" stroke-width="0.3"  text-anchor="start" >(1<tspan dx="0.7">,</tspan><tspan dx="0.4">3</tspan>)</text>
<text x="54.40" y="244.90" font-family="Liberation Sans, sans-serif" font-size="11.5px" fill="#000" stroke="#000" stroke-width="0.3"  text-anchor="start" >(2<tspan dx="0.7">,</tspan><tspan dx="0.4">1</tspan>)</text>
<text x="242.70" y="182.30" font-family="Liberation Sans, sans-serif" font-size="11.5px" fill="#000" stroke="#000" stroke-width="0.3"  text-anchor="start" >(1<tspan dx="0.7">,</tspan><tspan dx="0.4">3</tspan>)</text>
<text x="242.70" y="272.10" font-family="Liberation Sans, sans-serif" font-size="11.5px" fill="#000" stroke="#000" stroke-width="0.3"  text-anchor="start" >(2<tspan dx="0.7">,</tspan><tspan dx="0.4">1</tspan>)</text>
<text x="54.40" y="354.40" font-family="Liberation Sans, sans-serif" font-size="11.5px" fill="#000" stroke="#000" stroke-width="0.3"  text-anchor="start" >(1<tspan dx="0.7">,</tspan><tspan dx="0.4">2</tspan>)</text>
<text x="119.90" y="347.20" font-family="Liberation Sans, sans-serif" font-size="11.5px" fill="#000" stroke="#000" stroke-width="0.3"  text-anchor="start" >(1<tspan dx="0.7">,</tspan><tspan dx="0.4">2</tspan>)</text>
<text x="110.90" y="402.10" font-family="Liberation Sans, sans-serif" font-size="11.5px" fill="#000" stroke="#000" stroke-width="0.3"  text-anchor="start" >(2<tspan dx="0.7">,</tspan><tspan dx="0.4">2</tspan>)</text>
<text x="242.50" y="342.50" font-family="Liberation Sans, sans-serif" font-size="11.5px" fill="#000" stroke="#000" stroke-width="0.3"  text-anchor="start" >(1<tspan dx="0.7">,</tspan><tspan dx="0.4">2</tspan>)</text>
<text x="246.00" y="363.60" font-family="Liberation Sans, sans-serif" font-size="11.5px" fill="#000" stroke="#000" stroke-width="0.3"  text-anchor="start" >(2<tspan dx="0.7">,</tspan><tspan dx="0.4">3</tspan>)</text>
<text x="192.10" y="401.40" font-family="Liberation Sans, sans-serif" font-size="11.5px" fill="#000" stroke="#000" stroke-width="0.3"  text-anchor="start" >(3<tspan dx="0.7">,</tspan><tspan dx="0.4">3</tspan>)</text>
<text x="496.40" y="227.10" font-family="Liberation Sans, sans-serif" font-size="14px" fill="#aa0000" stroke="#aa0000" stroke-width="0.3" font-style="italic" text-anchor="start" >Q</text>
<text x="511.40" y="227.60" font-family="Liberation Sans, sans-serif" font-size="14px" fill="#aa0000" stroke="#aa0000" stroke-width="0.3"  text-anchor="start" textLength="7.2" lengthAdjust="spacingAndGlyphs">&#8211;</text>
<text x="522.90" y="227.00" font-family="Liberation Sans, sans-serif" font-size="14px" fill="#aa0000" stroke="#aa0000" stroke-width="0.3"  text-anchor="start" >1</text>
<text x="496.40" y="362.60" font-family="Liberation Sans, sans-serif" font-size="14px" fill="#aa0000" stroke="#aa0000" stroke-width="0.3" font-style="italic" text-anchor="start" >Q</text>
<text x="511.40" y="363.10" font-family="Liberation Sans, sans-serif" font-size="14px" fill="#aa0000" stroke="#aa0000" stroke-width="0.3"  text-anchor="start" textLength="7.2" lengthAdjust="spacingAndGlyphs">&#8211;</text>
<text x="522.90" y="362.50" font-family="Liberation Sans, sans-serif" font-size="14px" fill="#aa0000" stroke="#aa0000" stroke-width="0.3"  text-anchor="start" >1</text>
<text x="481.40" y="77.80" font-family="Liberation Sans, sans-serif" font-size="13px" fill="#0000aa" stroke="#0000aa" stroke-width="0.3"  text-anchor="start" >1</text>
<text x="481.20" y="104.40" font-family="Liberation Sans, sans-serif" font-size="13px" fill="#0000aa" stroke="#0000aa" stroke-width="0.3"  text-anchor="start" >2</text>
<path d="M481.6,85.1 L490.6,85.1" stroke="#0000aa" stroke-width="1" fill="none"/>
<text x="494.30" y="89.50" font-family="Liberation Sans, sans-serif" font-size="13.5px" fill="#0000aa" stroke="#0000aa" stroke-width="0.3" font-style="italic" text-anchor="start" >Q</text>
<text x="505.60" y="89.50" font-family="Liberation Sans, sans-serif" font-size="13.5px" fill="#0000aa" stroke="#0000aa" stroke-width="0.3"  text-anchor="start" >(</text>
<text x="510.60" y="89.50" font-family="Liberation Sans, sans-serif" font-size="13.5px" fill="#0000aa" stroke="#0000aa" stroke-width="0.3" font-style="italic" text-anchor="start" >Q</text>
<text x="526.00" y="88.90" font-family="Liberation Sans, sans-serif" font-size="13.5px" fill="#0000aa" stroke="#0000aa" stroke-width="0.3"  text-anchor="start" textLength="6.6" lengthAdjust="spacingAndGlyphs">&#8211;</text>
<text x="536.60" y="89.50" font-family="Liberation Sans, sans-serif" font-size="13.5px" fill="#0000aa" stroke="#0000aa" stroke-width="0.3"  text-anchor="start" >3</text>
<text x="545.00" y="89.50" font-family="Liberation Sans, sans-serif" font-size="13.5px" fill="#0000aa" stroke="#0000aa" stroke-width="0.3"  text-anchor="start" >)</text>
<text x="621.00" y="104.40" font-family="Liberation Sans, sans-serif" font-size="14px" fill="#000" stroke="#000" stroke-width="0.1" font-style="italic" text-anchor="start" >Z</text>
<text x="620.70" y="141.90" font-family="Liberation Sans, sans-serif" font-size="14.5px" fill="#000" stroke="#000" stroke-width="0.1" font-style="italic" text-anchor="start" >&#1013;</text>
<text x="626.90" y="140.90" font-family="Liberation Sans, sans-serif" font-size="12px" fill="#000" stroke="#000" stroke-width="0.1"  text-anchor="start" >'</text>
<text x="619.30" y="227.80" font-family="Liberation Sans, sans-serif" font-size="14px" fill="#000" stroke="#000" stroke-width="0.1" font-style="italic" text-anchor="start" >&#963;</text>
<text x="628.50" y="226.80" font-family="Liberation Sans, sans-serif" font-size="12px" fill="#000" stroke="#000" stroke-width="0.1"  text-anchor="start" >'</text>
<text x="621.40" y="316.70" font-family="Liberation Sans, sans-serif" font-size="14.5px" fill="#000" stroke="#000" stroke-width="0.1" font-style="italic" text-anchor="start" >&#1013;</text>
<text x="620.50" y="366.10" font-family="Liberation Sans, sans-serif" font-size="14px" fill="#000" stroke="#000" stroke-width="0.1" font-style="italic" text-anchor="start" >&#963;</text>
</g>
</svg>
</body></html>
